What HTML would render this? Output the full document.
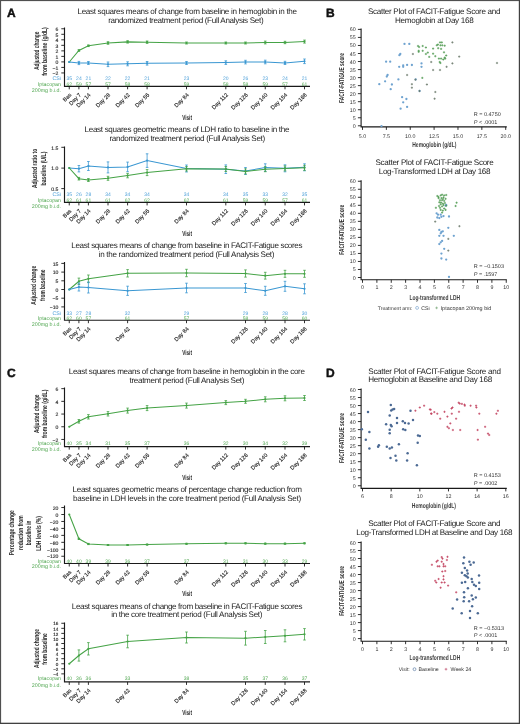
<!DOCTYPE html>
<html><head><meta charset="utf-8"><style>
html,body{margin:0;padding:0;background:#fff;}
body{width:520px;height:724px;overflow:hidden;position:relative;}
svg{will-change:transform;text-rendering:geometricPrecision;position:absolute;left:0;top:0;font-family:"Liberation Sans", sans-serif;}
</style></head><body>
<svg width="520" height="724" viewBox="0 0 520 724">
<text x="77.50" y="14.00" font-size="8.1" fill="#1e1e1e" textLength="219.50" lengthAdjust="spacing">Least squares means of change from baseline in hemoglobin in the</text>
<text x="108.20" y="22.80" font-size="8.1" fill="#1e1e1e" textLength="155.40" lengthAdjust="spacing">randomized treatment period (Full Analysis Set)</text>
<text transform="translate(38.86,69.85) rotate(-90)" x="0" y="0" font-size="7.2" font-weight="bold" fill="#262626" textLength="38.2" lengthAdjust="spacingAndGlyphs">Adjusted change</text>
<text transform="translate(47.36,75.70) rotate(-90)" x="0" y="0" font-size="7.2" font-weight="bold" fill="#262626" textLength="48.5" lengthAdjust="spacingAndGlyphs">from baseline (g/dL)</text>
<path d="M64.5,27.5 V86.3 H310" fill="none" stroke="#1a1a1a" stroke-width="1.15"/>
<line x1="61.3" y1="28.78" x2="64.5" y2="28.78" stroke="#1a1a1a" stroke-width="0.9"/>
<text x="58.40" y="30.98" font-size="5.1" text-anchor="end" fill="#222" stroke="#222" stroke-width="0.12">6</text>
<line x1="61.3" y1="34.30" x2="64.5" y2="34.30" stroke="#1a1a1a" stroke-width="0.9"/>
<text x="58.40" y="36.50" font-size="5.1" text-anchor="end" fill="#222" stroke="#222" stroke-width="0.12">5</text>
<line x1="61.3" y1="39.82" x2="64.5" y2="39.82" stroke="#1a1a1a" stroke-width="0.9"/>
<text x="58.40" y="42.02" font-size="5.1" text-anchor="end" fill="#222" stroke="#222" stroke-width="0.12">4</text>
<line x1="61.3" y1="45.34" x2="64.5" y2="45.34" stroke="#1a1a1a" stroke-width="0.9"/>
<text x="58.40" y="47.54" font-size="5.1" text-anchor="end" fill="#222" stroke="#222" stroke-width="0.12">3</text>
<line x1="61.3" y1="50.86" x2="64.5" y2="50.86" stroke="#1a1a1a" stroke-width="0.9"/>
<text x="58.40" y="53.06" font-size="5.1" text-anchor="end" fill="#222" stroke="#222" stroke-width="0.12">2</text>
<line x1="61.3" y1="56.38" x2="64.5" y2="56.38" stroke="#1a1a1a" stroke-width="0.9"/>
<text x="58.40" y="58.58" font-size="5.1" text-anchor="end" fill="#222" stroke="#222" stroke-width="0.12">1</text>
<line x1="61.3" y1="61.90" x2="64.5" y2="61.90" stroke="#1a1a1a" stroke-width="0.9"/>
<text x="58.40" y="64.10" font-size="5.1" text-anchor="end" fill="#222" stroke="#222" stroke-width="0.12">0</text>
<line x1="61.3" y1="67.42" x2="64.5" y2="67.42" stroke="#1a1a1a" stroke-width="0.9"/>
<text x="58.40" y="69.62" font-size="5.1" text-anchor="end" fill="#222" stroke="#222" stroke-width="0.12">&#8722;1</text>
<line x1="61.3" y1="72.94" x2="64.5" y2="72.94" stroke="#1a1a1a" stroke-width="0.9"/>
<text x="58.40" y="75.14" font-size="5.1" text-anchor="end" fill="#222" stroke="#222" stroke-width="0.12">&#8722;2</text>
<line x1="69.25" y1="86.3" x2="69.25" y2="89.3" stroke="#1a1a1a" stroke-width="0.9"/>
<text transform="translate(71.85,95.30) rotate(-45)" font-size="5.6" text-anchor="end" fill="#222" stroke="#222" stroke-width="0.12">Bas</text>
<line x1="78.9" y1="86.3" x2="78.9" y2="89.3" stroke="#1a1a1a" stroke-width="0.9"/>
<text transform="translate(81.50,95.30) rotate(-45)" font-size="5.6" text-anchor="end" fill="#222" stroke="#222" stroke-width="0.12">Day 7</text>
<line x1="88.4" y1="86.3" x2="88.4" y2="89.3" stroke="#1a1a1a" stroke-width="0.9"/>
<text transform="translate(91.00,95.30) rotate(-45)" font-size="5.6" text-anchor="end" fill="#222" stroke="#222" stroke-width="0.12">Day 14</text>
<line x1="108.0" y1="86.3" x2="108.0" y2="89.3" stroke="#1a1a1a" stroke-width="0.9"/>
<text transform="translate(110.60,95.30) rotate(-45)" font-size="5.6" text-anchor="end" fill="#222" stroke="#222" stroke-width="0.12">Day 28</text>
<line x1="127.6" y1="86.3" x2="127.6" y2="89.3" stroke="#1a1a1a" stroke-width="0.9"/>
<text transform="translate(130.20,95.30) rotate(-45)" font-size="5.6" text-anchor="end" fill="#222" stroke="#222" stroke-width="0.12">Day 42</text>
<line x1="147.1" y1="86.3" x2="147.1" y2="89.3" stroke="#1a1a1a" stroke-width="0.9"/>
<text transform="translate(149.70,95.30) rotate(-45)" font-size="5.6" text-anchor="end" fill="#222" stroke="#222" stroke-width="0.12">Day 56</text>
<line x1="186.5" y1="86.3" x2="186.5" y2="89.3" stroke="#1a1a1a" stroke-width="0.9"/>
<text transform="translate(189.10,95.30) rotate(-45)" font-size="5.6" text-anchor="end" fill="#222" stroke="#222" stroke-width="0.12">Day 84</text>
<line x1="225.8" y1="86.3" x2="225.8" y2="89.3" stroke="#1a1a1a" stroke-width="0.9"/>
<text transform="translate(228.40,95.30) rotate(-45)" font-size="5.6" text-anchor="end" fill="#222" stroke="#222" stroke-width="0.12">Day 112</text>
<line x1="245.5" y1="86.3" x2="245.5" y2="89.3" stroke="#1a1a1a" stroke-width="0.9"/>
<text transform="translate(248.10,95.30) rotate(-45)" font-size="5.6" text-anchor="end" fill="#222" stroke="#222" stroke-width="0.12">Day 126</text>
<line x1="265.25" y1="86.3" x2="265.25" y2="89.3" stroke="#1a1a1a" stroke-width="0.9"/>
<text transform="translate(267.85,95.30) rotate(-45)" font-size="5.6" text-anchor="end" fill="#222" stroke="#222" stroke-width="0.12">Day 140</text>
<line x1="285.0" y1="86.3" x2="285.0" y2="89.3" stroke="#1a1a1a" stroke-width="0.9"/>
<text transform="translate(287.60,95.30) rotate(-45)" font-size="5.6" text-anchor="end" fill="#222" stroke="#222" stroke-width="0.12">Day 154</text>
<line x1="304.5" y1="86.3" x2="304.5" y2="89.3" stroke="#1a1a1a" stroke-width="0.9"/>
<text transform="translate(307.10,95.30) rotate(-45)" font-size="5.6" text-anchor="end" fill="#222" stroke="#222" stroke-width="0.12">Day 168</text>
<text x="182.25" y="119.91" font-size="7.2" font-weight="bold" fill="#262626" textLength="9.7" lengthAdjust="spacingAndGlyphs">Visit</text>
<text x="61.00" y="80.30" font-size="5.3" text-anchor="end" fill="#4a9ed8" >CSi</text>
<text x="69.25" y="80.30" font-size="5.0" text-anchor="middle" fill="#4a9ed8" >35</text>
<text x="78.90" y="80.30" font-size="5.0" text-anchor="middle" fill="#4a9ed8" >24</text>
<text x="88.40" y="80.30" font-size="5.0" text-anchor="middle" fill="#4a9ed8" >21</text>
<text x="108.00" y="80.30" font-size="5.0" text-anchor="middle" fill="#4a9ed8" >22</text>
<text x="127.60" y="80.30" font-size="5.0" text-anchor="middle" fill="#4a9ed8" >22</text>
<text x="147.10" y="80.30" font-size="5.0" text-anchor="middle" fill="#4a9ed8" >21</text>
<text x="186.50" y="80.30" font-size="5.0" text-anchor="middle" fill="#4a9ed8" >23</text>
<text x="225.80" y="80.30" font-size="5.0" text-anchor="middle" fill="#4a9ed8" >20</text>
<text x="245.50" y="80.30" font-size="5.0" text-anchor="middle" fill="#4a9ed8" >26</text>
<text x="265.25" y="80.30" font-size="5.0" text-anchor="middle" fill="#4a9ed8" >23</text>
<text x="285.00" y="80.30" font-size="5.0" text-anchor="middle" fill="#4a9ed8" >24</text>
<text x="304.50" y="80.30" font-size="5.0" text-anchor="middle" fill="#4a9ed8" >21</text>
<text x="61.00" y="86.20" font-size="5.3" text-anchor="end" fill="#52a752" >Iptacopan</text>
<text x="61.00" y="92.30" font-size="5.3" text-anchor="end" fill="#52a752" >200mg b.i.d.</text>
<text x="69.25" y="86.20" font-size="5.0" text-anchor="middle" fill="#52a752" >62</text>
<text x="78.90" y="86.20" font-size="5.0" text-anchor="middle" fill="#52a752" >59</text>
<text x="88.40" y="86.20" font-size="5.0" text-anchor="middle" fill="#52a752" >57</text>
<text x="108.00" y="86.20" font-size="5.0" text-anchor="middle" fill="#52a752" >57</text>
<text x="127.60" y="86.20" font-size="5.0" text-anchor="middle" fill="#52a752" >58</text>
<text x="147.10" y="86.20" font-size="5.0" text-anchor="middle" fill="#52a752" >58</text>
<text x="186.50" y="86.20" font-size="5.0" text-anchor="middle" fill="#52a752" >59</text>
<text x="225.80" y="86.20" font-size="5.0" text-anchor="middle" fill="#52a752" >58</text>
<text x="245.50" y="86.20" font-size="5.0" text-anchor="middle" fill="#52a752" >58</text>
<text x="265.25" y="86.20" font-size="5.0" text-anchor="middle" fill="#52a752" >59</text>
<text x="285.00" y="86.20" font-size="5.0" text-anchor="middle" fill="#52a752" >57</text>
<text x="304.50" y="86.20" font-size="5.0" text-anchor="middle" fill="#52a752" >61</text>
<path d="M69.25,62.00 L78.90,50.50 L88.40,45.75 L108.00,43.00 L127.60,41.90 L147.10,42.20 L186.50,43.00 L225.80,43.00 L245.50,43.00 L265.25,42.50 L285.00,42.50 L304.50,41.60" fill="none" stroke="#45a346" stroke-width="1.05"/>
<circle cx="69.25" cy="62.00" r="1.1" fill="#45a346"/>
<path d="M77.60,49.70 H80.20 M78.90,49.70 V51.30 M77.60,51.30 H80.20" stroke="#45a346" stroke-width="0.8" fill="none"/>
<circle cx="78.90" cy="50.50" r="1.1" fill="#45a346"/>
<path d="M87.10,44.95 H89.70 M88.40,44.95 V46.55 M87.10,46.55 H89.70" stroke="#45a346" stroke-width="0.8" fill="none"/>
<circle cx="88.40" cy="45.75" r="1.1" fill="#45a346"/>
<path d="M106.70,41.70 H109.30 M108.00,41.70 V44.30 M106.70,44.30 H109.30" stroke="#45a346" stroke-width="0.8" fill="none"/>
<circle cx="108.00" cy="43.00" r="1.1" fill="#45a346"/>
<path d="M126.30,40.70 H128.90 M127.60,40.70 V43.10 M126.30,43.10 H128.90" stroke="#45a346" stroke-width="0.8" fill="none"/>
<circle cx="127.60" cy="41.90" r="1.1" fill="#45a346"/>
<path d="M145.80,41.00 H148.40 M147.10,41.00 V43.40 M145.80,43.40 H148.40" stroke="#45a346" stroke-width="0.8" fill="none"/>
<circle cx="147.10" cy="42.20" r="1.1" fill="#45a346"/>
<path d="M185.20,42.00 H187.80 M186.50,42.00 V44.00 M185.20,44.00 H187.80" stroke="#45a346" stroke-width="0.8" fill="none"/>
<circle cx="186.50" cy="43.00" r="1.1" fill="#45a346"/>
<path d="M224.50,42.00 H227.10 M225.80,42.00 V44.00 M224.50,44.00 H227.10" stroke="#45a346" stroke-width="0.8" fill="none"/>
<circle cx="225.80" cy="43.00" r="1.1" fill="#45a346"/>
<path d="M244.20,42.00 H246.80 M245.50,42.00 V44.00 M244.20,44.00 H246.80" stroke="#45a346" stroke-width="0.8" fill="none"/>
<circle cx="245.50" cy="43.00" r="1.1" fill="#45a346"/>
<path d="M263.95,41.10 H266.55 M265.25,41.10 V43.90 M263.95,43.90 H266.55" stroke="#45a346" stroke-width="0.8" fill="none"/>
<circle cx="265.25" cy="42.50" r="1.1" fill="#45a346"/>
<path d="M283.70,41.30 H286.30 M285.00,41.30 V43.70 M283.70,43.70 H286.30" stroke="#45a346" stroke-width="0.8" fill="none"/>
<circle cx="285.00" cy="42.50" r="1.1" fill="#45a346"/>
<path d="M303.20,40.10 H305.80 M304.50,40.10 V43.10 M303.20,43.10 H305.80" stroke="#45a346" stroke-width="0.8" fill="none"/>
<circle cx="304.50" cy="41.60" r="1.1" fill="#45a346"/>
<path d="M69.25,62.00 L78.90,63.00 L88.40,63.00 L108.00,64.30 L127.60,63.80 L147.10,63.30 L186.50,63.00 L225.80,62.60 L245.50,62.10 L265.25,62.00 L285.00,62.90 L304.50,61.30" fill="none" stroke="#3a97d2" stroke-width="1.05"/>
<circle cx="69.25" cy="62.00" r="1.1" fill="#3a97d2"/>
<path d="M77.60,61.40 H80.20 M78.90,61.40 V64.60 M77.60,64.60 H80.20" stroke="#3a97d2" stroke-width="0.8" fill="none"/>
<circle cx="78.90" cy="63.00" r="1.1" fill="#3a97d2"/>
<path d="M87.10,61.50 H89.70 M88.40,61.50 V64.50 M87.10,64.50 H89.70" stroke="#3a97d2" stroke-width="0.8" fill="none"/>
<circle cx="88.40" cy="63.00" r="1.1" fill="#3a97d2"/>
<path d="M106.70,62.00 H109.30 M108.00,62.00 V66.60 M106.70,66.60 H109.30" stroke="#3a97d2" stroke-width="0.8" fill="none"/>
<circle cx="108.00" cy="64.30" r="1.1" fill="#3a97d2"/>
<path d="M126.30,61.80 H128.90 M127.60,61.80 V65.80 M126.30,65.80 H128.90" stroke="#3a97d2" stroke-width="0.8" fill="none"/>
<circle cx="127.60" cy="63.80" r="1.1" fill="#3a97d2"/>
<path d="M145.80,61.50 H148.40 M147.10,61.50 V65.10 M145.80,65.10 H148.40" stroke="#3a97d2" stroke-width="0.8" fill="none"/>
<circle cx="147.10" cy="63.30" r="1.1" fill="#3a97d2"/>
<path d="M185.20,61.50 H187.80 M186.50,61.50 V64.50 M185.20,64.50 H187.80" stroke="#3a97d2" stroke-width="0.8" fill="none"/>
<circle cx="186.50" cy="63.00" r="1.1" fill="#3a97d2"/>
<path d="M224.50,60.80 H227.10 M225.80,60.80 V64.40 M224.50,64.40 H227.10" stroke="#3a97d2" stroke-width="0.8" fill="none"/>
<circle cx="225.80" cy="62.60" r="1.1" fill="#3a97d2"/>
<path d="M244.20,60.30 H246.80 M245.50,60.30 V63.90 M244.20,63.90 H246.80" stroke="#3a97d2" stroke-width="0.8" fill="none"/>
<circle cx="245.50" cy="62.10" r="1.1" fill="#3a97d2"/>
<path d="M263.95,60.20 H266.55 M265.25,60.20 V63.80 M263.95,63.80 H266.55" stroke="#3a97d2" stroke-width="0.8" fill="none"/>
<circle cx="265.25" cy="62.00" r="1.1" fill="#3a97d2"/>
<path d="M283.70,61.30 H286.30 M285.00,61.30 V64.50 M283.70,64.50 H286.30" stroke="#3a97d2" stroke-width="0.8" fill="none"/>
<circle cx="285.00" cy="62.90" r="1.1" fill="#3a97d2"/>
<path d="M303.20,59.00 H305.80 M304.50,59.00 V63.60 M303.20,63.60 H305.80" stroke="#3a97d2" stroke-width="0.8" fill="none"/>
<circle cx="304.50" cy="61.30" r="1.1" fill="#3a97d2"/>
<text x="84.50" y="131.70" font-size="8.1" fill="#1e1e1e" textLength="205.00" lengthAdjust="spacing">Least squares geometric means of LDH ratio to baseline in the</text>
<text x="109.40" y="140.70" font-size="8.1" fill="#1e1e1e" textLength="155.80" lengthAdjust="spacing">randomized treatment period (Full Analysis Set)</text>
<text transform="translate(37.16,188.10) rotate(-90)" x="0" y="0" font-size="7.2" font-weight="bold" fill="#262626" textLength="39.4" lengthAdjust="spacingAndGlyphs">Adjusted ratio to</text>
<text transform="translate(46.26,185.40) rotate(-90)" x="0" y="0" font-size="7.2" font-weight="bold" fill="#262626" textLength="33.8" lengthAdjust="spacingAndGlyphs">baseline (U/L)</text>
<path d="M64.5,146.5 V202.4 H310" fill="none" stroke="#1a1a1a" stroke-width="1.15"/>
<line x1="61.3" y1="147.30" x2="64.5" y2="147.30" stroke="#1a1a1a" stroke-width="0.9"/>
<text x="58.40" y="149.50" font-size="5.1" text-anchor="end" fill="#222" stroke="#222" stroke-width="0.12">1.5</text>
<line x1="61.3" y1="168.10" x2="64.5" y2="168.10" stroke="#1a1a1a" stroke-width="0.9"/>
<text x="58.40" y="170.30" font-size="5.1" text-anchor="end" fill="#222" stroke="#222" stroke-width="0.12">1.0</text>
<line x1="61.3" y1="188.60" x2="64.5" y2="188.60" stroke="#1a1a1a" stroke-width="0.9"/>
<text x="58.40" y="190.80" font-size="5.1" text-anchor="end" fill="#222" stroke="#222" stroke-width="0.12">0.5</text>
<line x1="69.25" y1="202.4" x2="69.25" y2="205.4" stroke="#1a1a1a" stroke-width="0.9"/>
<text transform="translate(71.85,211.40) rotate(-45)" font-size="5.6" text-anchor="end" fill="#222" stroke="#222" stroke-width="0.12">Bas</text>
<line x1="78.9" y1="202.4" x2="78.9" y2="205.4" stroke="#1a1a1a" stroke-width="0.9"/>
<text transform="translate(81.50,211.40) rotate(-45)" font-size="5.6" text-anchor="end" fill="#222" stroke="#222" stroke-width="0.12">Day 7</text>
<line x1="88.4" y1="202.4" x2="88.4" y2="205.4" stroke="#1a1a1a" stroke-width="0.9"/>
<text transform="translate(91.00,211.40) rotate(-45)" font-size="5.6" text-anchor="end" fill="#222" stroke="#222" stroke-width="0.12">Day 14</text>
<line x1="108.0" y1="202.4" x2="108.0" y2="205.4" stroke="#1a1a1a" stroke-width="0.9"/>
<text transform="translate(110.60,211.40) rotate(-45)" font-size="5.6" text-anchor="end" fill="#222" stroke="#222" stroke-width="0.12">Day 28</text>
<line x1="127.6" y1="202.4" x2="127.6" y2="205.4" stroke="#1a1a1a" stroke-width="0.9"/>
<text transform="translate(130.20,211.40) rotate(-45)" font-size="5.6" text-anchor="end" fill="#222" stroke="#222" stroke-width="0.12">Day 42</text>
<line x1="147.1" y1="202.4" x2="147.1" y2="205.4" stroke="#1a1a1a" stroke-width="0.9"/>
<text transform="translate(149.70,211.40) rotate(-45)" font-size="5.6" text-anchor="end" fill="#222" stroke="#222" stroke-width="0.12">Day 56</text>
<line x1="186.5" y1="202.4" x2="186.5" y2="205.4" stroke="#1a1a1a" stroke-width="0.9"/>
<text transform="translate(189.10,211.40) rotate(-45)" font-size="5.6" text-anchor="end" fill="#222" stroke="#222" stroke-width="0.12">Day 84</text>
<line x1="225.8" y1="202.4" x2="225.8" y2="205.4" stroke="#1a1a1a" stroke-width="0.9"/>
<text transform="translate(228.40,211.40) rotate(-45)" font-size="5.6" text-anchor="end" fill="#222" stroke="#222" stroke-width="0.12">Day 112</text>
<line x1="245.5" y1="202.4" x2="245.5" y2="205.4" stroke="#1a1a1a" stroke-width="0.9"/>
<text transform="translate(248.10,211.40) rotate(-45)" font-size="5.6" text-anchor="end" fill="#222" stroke="#222" stroke-width="0.12">Day 126</text>
<line x1="265.25" y1="202.4" x2="265.25" y2="205.4" stroke="#1a1a1a" stroke-width="0.9"/>
<text transform="translate(267.85,211.40) rotate(-45)" font-size="5.6" text-anchor="end" fill="#222" stroke="#222" stroke-width="0.12">Day 140</text>
<line x1="285.0" y1="202.4" x2="285.0" y2="205.4" stroke="#1a1a1a" stroke-width="0.9"/>
<text transform="translate(287.60,211.40) rotate(-45)" font-size="5.6" text-anchor="end" fill="#222" stroke="#222" stroke-width="0.12">Day 154</text>
<line x1="304.5" y1="202.4" x2="304.5" y2="205.4" stroke="#1a1a1a" stroke-width="0.9"/>
<text transform="translate(307.10,211.40) rotate(-45)" font-size="5.6" text-anchor="end" fill="#222" stroke="#222" stroke-width="0.12">Day 168</text>
<text x="182.25" y="235.56" font-size="7.2" font-weight="bold" fill="#262626" textLength="9.7" lengthAdjust="spacingAndGlyphs">Visit</text>
<text x="61.00" y="196.30" font-size="5.3" text-anchor="end" fill="#4a9ed8" >CSi</text>
<text x="69.25" y="196.30" font-size="5.0" text-anchor="middle" fill="#4a9ed8" >35</text>
<text x="78.90" y="196.30" font-size="5.0" text-anchor="middle" fill="#4a9ed8" >26</text>
<text x="88.40" y="196.30" font-size="5.0" text-anchor="middle" fill="#4a9ed8" >28</text>
<text x="108.00" y="196.30" font-size="5.0" text-anchor="middle" fill="#4a9ed8" >34</text>
<text x="127.60" y="196.30" font-size="5.0" text-anchor="middle" fill="#4a9ed8" >34</text>
<text x="147.10" y="196.30" font-size="5.0" text-anchor="middle" fill="#4a9ed8" >34</text>
<text x="186.50" y="196.30" font-size="5.0" text-anchor="middle" fill="#4a9ed8" >34</text>
<text x="225.80" y="196.30" font-size="5.0" text-anchor="middle" fill="#4a9ed8" >34</text>
<text x="245.50" y="196.30" font-size="5.0" text-anchor="middle" fill="#4a9ed8" >35</text>
<text x="265.25" y="196.30" font-size="5.0" text-anchor="middle" fill="#4a9ed8" >33</text>
<text x="285.00" y="196.30" font-size="5.0" text-anchor="middle" fill="#4a9ed8" >32</text>
<text x="304.50" y="196.30" font-size="5.0" text-anchor="middle" fill="#4a9ed8" >35</text>
<text x="61.00" y="201.70" font-size="5.3" text-anchor="end" fill="#52a752" >Iptacopan</text>
<text x="61.00" y="208.00" font-size="5.3" text-anchor="end" fill="#52a752" >200mg b.i.d.</text>
<text x="69.25" y="201.70" font-size="5.0" text-anchor="middle" fill="#52a752" >62</text>
<text x="78.90" y="201.70" font-size="5.0" text-anchor="middle" fill="#52a752" >61</text>
<text x="88.40" y="201.70" font-size="5.0" text-anchor="middle" fill="#52a752" >61</text>
<text x="108.00" y="201.70" font-size="5.0" text-anchor="middle" fill="#52a752" >61</text>
<text x="127.60" y="201.70" font-size="5.0" text-anchor="middle" fill="#52a752" >62</text>
<text x="147.10" y="201.70" font-size="5.0" text-anchor="middle" fill="#52a752" >62</text>
<text x="186.50" y="201.70" font-size="5.0" text-anchor="middle" fill="#52a752" >62</text>
<text x="225.80" y="201.70" font-size="5.0" text-anchor="middle" fill="#52a752" >61</text>
<text x="245.50" y="201.70" font-size="5.0" text-anchor="middle" fill="#52a752" >59</text>
<text x="265.25" y="201.70" font-size="5.0" text-anchor="middle" fill="#52a752" >59</text>
<text x="285.00" y="201.70" font-size="5.0" text-anchor="middle" fill="#52a752" >57</text>
<text x="304.50" y="201.70" font-size="5.0" text-anchor="middle" fill="#52a752" >61</text>
<path d="M69.25,168.00 L78.90,168.70 L88.40,166.00 L108.00,167.40 L127.60,166.90 L147.10,160.60 L186.50,168.50 L225.80,169.20 L245.50,171.00 L265.25,167.60 L285.00,168.30 L304.50,167.30" fill="none" stroke="#3a97d2" stroke-width="1.05"/>
<circle cx="69.25" cy="168.00" r="1.1" fill="#3a97d2"/>
<path d="M77.60,165.50 H80.20 M78.90,165.50 V171.90 M77.60,171.90 H80.20" stroke="#3a97d2" stroke-width="0.8" fill="none"/>
<circle cx="78.90" cy="168.70" r="1.1" fill="#3a97d2"/>
<path d="M87.10,161.50 H89.70 M88.40,161.50 V170.50 M87.10,170.50 H89.70" stroke="#3a97d2" stroke-width="0.8" fill="none"/>
<circle cx="88.40" cy="166.00" r="1.1" fill="#3a97d2"/>
<path d="M106.70,161.90 H109.30 M108.00,161.90 V172.90 M106.70,172.90 H109.30" stroke="#3a97d2" stroke-width="0.8" fill="none"/>
<circle cx="108.00" cy="167.40" r="1.1" fill="#3a97d2"/>
<path d="M126.30,162.10 H128.90 M127.60,162.10 V171.70 M126.30,171.70 H128.90" stroke="#3a97d2" stroke-width="0.8" fill="none"/>
<circle cx="127.60" cy="166.90" r="1.1" fill="#3a97d2"/>
<path d="M145.80,153.80 H148.40 M147.10,153.80 V167.40 M145.80,167.40 H148.40" stroke="#3a97d2" stroke-width="0.8" fill="none"/>
<circle cx="147.10" cy="160.60" r="1.1" fill="#3a97d2"/>
<path d="M185.20,165.00 H187.80 M186.50,165.00 V172.00 M185.20,172.00 H187.80" stroke="#3a97d2" stroke-width="0.8" fill="none"/>
<circle cx="186.50" cy="168.50" r="1.1" fill="#3a97d2"/>
<path d="M224.50,164.90 H227.10 M225.80,164.90 V173.50 M224.50,173.50 H227.10" stroke="#3a97d2" stroke-width="0.8" fill="none"/>
<circle cx="225.80" cy="169.20" r="1.1" fill="#3a97d2"/>
<path d="M244.20,167.50 H246.80 M245.50,167.50 V174.50 M244.20,174.50 H246.80" stroke="#3a97d2" stroke-width="0.8" fill="none"/>
<circle cx="245.50" cy="171.00" r="1.1" fill="#3a97d2"/>
<path d="M263.95,163.80 H266.55 M265.25,163.80 V171.40 M263.95,171.40 H266.55" stroke="#3a97d2" stroke-width="0.8" fill="none"/>
<circle cx="265.25" cy="167.60" r="1.1" fill="#3a97d2"/>
<path d="M283.70,164.80 H286.30 M285.00,164.80 V171.80 M283.70,171.80 H286.30" stroke="#3a97d2" stroke-width="0.8" fill="none"/>
<circle cx="285.00" cy="168.30" r="1.1" fill="#3a97d2"/>
<path d="M303.20,163.80 H305.80 M304.50,163.80 V170.80 M303.20,170.80 H305.80" stroke="#3a97d2" stroke-width="0.8" fill="none"/>
<circle cx="304.50" cy="167.30" r="1.1" fill="#3a97d2"/>
<path d="M69.25,168.00 L78.90,178.70 L88.40,180.00 L108.00,178.30 L127.60,175.60 L147.10,172.60 L186.50,168.80 L225.80,169.00 L245.50,171.40 L265.25,169.20 L285.00,168.40 L304.50,167.80" fill="none" stroke="#45a346" stroke-width="1.05"/>
<circle cx="69.25" cy="168.00" r="1.1" fill="#45a346"/>
<path d="M77.60,177.40 H80.20 M78.90,177.40 V180.00 M77.60,180.00 H80.20" stroke="#45a346" stroke-width="0.8" fill="none"/>
<circle cx="78.90" cy="178.70" r="1.1" fill="#45a346"/>
<path d="M87.10,178.50 H89.70 M88.40,178.50 V181.50 M87.10,181.50 H89.70" stroke="#45a346" stroke-width="0.8" fill="none"/>
<circle cx="88.40" cy="180.00" r="1.1" fill="#45a346"/>
<path d="M106.70,176.30 H109.30 M108.00,176.30 V180.30 M106.70,180.30 H109.30" stroke="#45a346" stroke-width="0.8" fill="none"/>
<circle cx="108.00" cy="178.30" r="1.1" fill="#45a346"/>
<path d="M126.30,173.40 H128.90 M127.60,173.40 V177.80 M126.30,177.80 H128.90" stroke="#45a346" stroke-width="0.8" fill="none"/>
<circle cx="127.60" cy="175.60" r="1.1" fill="#45a346"/>
<path d="M145.80,169.60 H148.40 M147.10,169.60 V175.60 M145.80,175.60 H148.40" stroke="#45a346" stroke-width="0.8" fill="none"/>
<circle cx="147.10" cy="172.60" r="1.1" fill="#45a346"/>
<path d="M185.20,166.60 H187.80 M186.50,166.60 V171.00 M185.20,171.00 H187.80" stroke="#45a346" stroke-width="0.8" fill="none"/>
<circle cx="186.50" cy="168.80" r="1.1" fill="#45a346"/>
<path d="M224.50,166.50 H227.10 M225.80,166.50 V171.50 M224.50,171.50 H227.10" stroke="#45a346" stroke-width="0.8" fill="none"/>
<circle cx="225.80" cy="169.00" r="1.1" fill="#45a346"/>
<path d="M244.20,168.90 H246.80 M245.50,168.90 V173.90 M244.20,173.90 H246.80" stroke="#45a346" stroke-width="0.8" fill="none"/>
<circle cx="245.50" cy="171.40" r="1.1" fill="#45a346"/>
<path d="M263.95,166.70 H266.55 M265.25,166.70 V171.70 M263.95,171.70 H266.55" stroke="#45a346" stroke-width="0.8" fill="none"/>
<circle cx="265.25" cy="169.20" r="1.1" fill="#45a346"/>
<path d="M283.70,165.90 H286.30 M285.00,165.90 V170.90 M283.70,170.90 H286.30" stroke="#45a346" stroke-width="0.8" fill="none"/>
<circle cx="285.00" cy="168.40" r="1.1" fill="#45a346"/>
<path d="M303.20,165.30 H305.80 M304.50,165.30 V170.30 M303.20,170.30 H305.80" stroke="#45a346" stroke-width="0.8" fill="none"/>
<circle cx="304.50" cy="167.80" r="1.1" fill="#45a346"/>
<text x="71.25" y="247.90" font-size="8.1" fill="#1e1e1e" textLength="231.25" lengthAdjust="spacing">Least squares means of change from baseline in FACIT-Fatigue scores</text>
<text x="98.75" y="257.10" font-size="8.1" fill="#1e1e1e" textLength="175.75" lengthAdjust="spacing">in the randomized treatment period (Full Analysis Set)</text>
<text transform="translate(35.96,304.80) rotate(-90)" x="0" y="0" font-size="7.2" font-weight="bold" fill="#262626" textLength="39.0" lengthAdjust="spacingAndGlyphs">Adjusted change</text>
<text transform="translate(44.56,301.00) rotate(-90)" x="0" y="0" font-size="7.2" font-weight="bold" fill="#262626" textLength="31.5" lengthAdjust="spacingAndGlyphs">from baseline</text>
<path d="M64.5,262.0 V320.2 H310" fill="none" stroke="#1a1a1a" stroke-width="1.15"/>
<line x1="61.3" y1="263.40" x2="64.5" y2="263.40" stroke="#1a1a1a" stroke-width="0.9"/>
<text x="58.40" y="265.60" font-size="5.1" text-anchor="end" fill="#222" stroke="#222" stroke-width="0.12">15</text>
<line x1="61.3" y1="272.10" x2="64.5" y2="272.10" stroke="#1a1a1a" stroke-width="0.9"/>
<text x="58.40" y="274.30" font-size="5.1" text-anchor="end" fill="#222" stroke="#222" stroke-width="0.12">10</text>
<line x1="61.3" y1="280.80" x2="64.5" y2="280.80" stroke="#1a1a1a" stroke-width="0.9"/>
<text x="58.40" y="283.00" font-size="5.1" text-anchor="end" fill="#222" stroke="#222" stroke-width="0.12">5</text>
<line x1="61.3" y1="289.50" x2="64.5" y2="289.50" stroke="#1a1a1a" stroke-width="0.9"/>
<text x="58.40" y="291.70" font-size="5.1" text-anchor="end" fill="#222" stroke="#222" stroke-width="0.12">0</text>
<line x1="61.3" y1="298.20" x2="64.5" y2="298.20" stroke="#1a1a1a" stroke-width="0.9"/>
<text x="58.40" y="300.40" font-size="5.1" text-anchor="end" fill="#222" stroke="#222" stroke-width="0.12">&#8722;5</text>
<line x1="61.3" y1="306.90" x2="64.5" y2="306.90" stroke="#1a1a1a" stroke-width="0.9"/>
<text x="58.40" y="309.10" font-size="5.1" text-anchor="end" fill="#222" stroke="#222" stroke-width="0.12">&#8722;10</text>
<line x1="69.25" y1="320.2" x2="69.25" y2="323.2" stroke="#1a1a1a" stroke-width="0.9"/>
<text transform="translate(71.85,329.20) rotate(-45)" font-size="5.6" text-anchor="end" fill="#222" stroke="#222" stroke-width="0.12">Bas</text>
<line x1="78.9" y1="320.2" x2="78.9" y2="323.2" stroke="#1a1a1a" stroke-width="0.9"/>
<text transform="translate(81.50,329.20) rotate(-45)" font-size="5.6" text-anchor="end" fill="#222" stroke="#222" stroke-width="0.12">Day 7</text>
<line x1="88.4" y1="320.2" x2="88.4" y2="323.2" stroke="#1a1a1a" stroke-width="0.9"/>
<text transform="translate(91.00,329.20) rotate(-45)" font-size="5.6" text-anchor="end" fill="#222" stroke="#222" stroke-width="0.12">Day 14</text>
<line x1="127.6" y1="320.2" x2="127.6" y2="323.2" stroke="#1a1a1a" stroke-width="0.9"/>
<text transform="translate(130.20,329.20) rotate(-45)" font-size="5.6" text-anchor="end" fill="#222" stroke="#222" stroke-width="0.12">Day 42</text>
<line x1="186.5" y1="320.2" x2="186.5" y2="323.2" stroke="#1a1a1a" stroke-width="0.9"/>
<text transform="translate(189.10,329.20) rotate(-45)" font-size="5.6" text-anchor="end" fill="#222" stroke="#222" stroke-width="0.12">Day 84</text>
<line x1="245.5" y1="320.2" x2="245.5" y2="323.2" stroke="#1a1a1a" stroke-width="0.9"/>
<text transform="translate(248.10,329.20) rotate(-45)" font-size="5.6" text-anchor="end" fill="#222" stroke="#222" stroke-width="0.12">Day 126</text>
<line x1="265.25" y1="320.2" x2="265.25" y2="323.2" stroke="#1a1a1a" stroke-width="0.9"/>
<text transform="translate(267.85,329.20) rotate(-45)" font-size="5.6" text-anchor="end" fill="#222" stroke="#222" stroke-width="0.12">Day 140</text>
<line x1="285.0" y1="320.2" x2="285.0" y2="323.2" stroke="#1a1a1a" stroke-width="0.9"/>
<text transform="translate(287.60,329.20) rotate(-45)" font-size="5.6" text-anchor="end" fill="#222" stroke="#222" stroke-width="0.12">Day 154</text>
<line x1="304.5" y1="320.2" x2="304.5" y2="323.2" stroke="#1a1a1a" stroke-width="0.9"/>
<text transform="translate(307.10,329.20) rotate(-45)" font-size="5.6" text-anchor="end" fill="#222" stroke="#222" stroke-width="0.12">Day 168</text>
<text x="182.25" y="355.41" font-size="7.2" font-weight="bold" fill="#262626" textLength="9.7" lengthAdjust="spacingAndGlyphs">Visit</text>
<text x="61.00" y="314.70" font-size="5.3" text-anchor="end" fill="#4a9ed8" >CSi</text>
<text x="69.25" y="314.70" font-size="5.0" text-anchor="middle" fill="#4a9ed8" >33</text>
<text x="78.90" y="314.70" font-size="5.0" text-anchor="middle" fill="#4a9ed8" >27</text>
<text x="88.40" y="314.70" font-size="5.0" text-anchor="middle" fill="#4a9ed8" >28</text>
<text x="127.60" y="314.70" font-size="5.0" text-anchor="middle" fill="#4a9ed8" >32</text>
<text x="186.50" y="314.70" font-size="5.0" text-anchor="middle" fill="#4a9ed8" >29</text>
<text x="245.50" y="314.70" font-size="5.0" text-anchor="middle" fill="#4a9ed8" >29</text>
<text x="265.25" y="314.70" font-size="5.0" text-anchor="middle" fill="#4a9ed8" >28</text>
<text x="285.00" y="314.70" font-size="5.0" text-anchor="middle" fill="#4a9ed8" >28</text>
<text x="304.50" y="314.70" font-size="5.0" text-anchor="middle" fill="#4a9ed8" >30</text>
<text x="61.00" y="319.70" font-size="5.3" text-anchor="end" fill="#52a752" >Iptacopan</text>
<text x="61.00" y="325.80" font-size="5.3" text-anchor="end" fill="#52a752" >200mg b.i.d.</text>
<text x="69.25" y="319.70" font-size="5.0" text-anchor="middle" fill="#52a752" >62</text>
<text x="78.90" y="319.70" font-size="5.0" text-anchor="middle" fill="#52a752" >60</text>
<text x="88.40" y="319.70" font-size="5.0" text-anchor="middle" fill="#52a752" >57</text>
<text x="127.60" y="319.70" font-size="5.0" text-anchor="middle" fill="#52a752" >61</text>
<text x="186.50" y="319.70" font-size="5.0" text-anchor="middle" fill="#52a752" >57</text>
<text x="245.50" y="319.70" font-size="5.0" text-anchor="middle" fill="#52a752" >58</text>
<text x="265.25" y="319.70" font-size="5.0" text-anchor="middle" fill="#52a752" >59</text>
<text x="285.00" y="319.70" font-size="5.0" text-anchor="middle" fill="#52a752" >58</text>
<text x="304.50" y="319.70" font-size="5.0" text-anchor="middle" fill="#52a752" >60</text>
<path d="M69.25,289.50 L78.90,281.30 L88.40,278.80 L127.60,273.30 L186.50,273.00 L245.50,273.50 L265.25,275.70 L285.00,273.80 L304.50,273.80" fill="none" stroke="#45a346" stroke-width="1.05"/>
<circle cx="69.25" cy="289.50" r="1.1" fill="#45a346"/>
<path d="M77.60,278.10 H80.20 M78.90,278.10 V284.50 M77.60,284.50 H80.20" stroke="#45a346" stroke-width="0.8" fill="none"/>
<circle cx="78.90" cy="281.30" r="1.1" fill="#45a346"/>
<path d="M87.10,275.00 H89.70 M88.40,275.00 V282.60 M87.10,282.60 H89.70" stroke="#45a346" stroke-width="0.8" fill="none"/>
<circle cx="88.40" cy="278.80" r="1.1" fill="#45a346"/>
<path d="M126.30,269.60 H128.90 M127.60,269.60 V277.00 M126.30,277.00 H128.90" stroke="#45a346" stroke-width="0.8" fill="none"/>
<circle cx="127.60" cy="273.30" r="1.1" fill="#45a346"/>
<path d="M185.20,269.30 H187.80 M186.50,269.30 V276.70 M185.20,276.70 H187.80" stroke="#45a346" stroke-width="0.8" fill="none"/>
<circle cx="186.50" cy="273.00" r="1.1" fill="#45a346"/>
<path d="M244.20,269.90 H246.80 M245.50,269.90 V277.10 M244.20,277.10 H246.80" stroke="#45a346" stroke-width="0.8" fill="none"/>
<circle cx="245.50" cy="273.50" r="1.1" fill="#45a346"/>
<path d="M263.95,272.30 H266.55 M265.25,272.30 V279.10 M263.95,279.10 H266.55" stroke="#45a346" stroke-width="0.8" fill="none"/>
<circle cx="265.25" cy="275.70" r="1.1" fill="#45a346"/>
<path d="M283.70,270.30 H286.30 M285.00,270.30 V277.30 M283.70,277.30 H286.30" stroke="#45a346" stroke-width="0.8" fill="none"/>
<circle cx="285.00" cy="273.80" r="1.1" fill="#45a346"/>
<path d="M303.20,270.30 H305.80 M304.50,270.30 V277.30 M303.20,277.30 H305.80" stroke="#45a346" stroke-width="0.8" fill="none"/>
<circle cx="304.50" cy="273.80" r="1.1" fill="#45a346"/>
<path d="M69.25,289.50 L78.90,287.00 L88.40,287.50 L127.60,290.80 L186.50,288.00 L245.50,288.00 L265.25,290.80 L285.00,286.30 L304.50,288.80" fill="none" stroke="#3a97d2" stroke-width="1.05"/>
<circle cx="69.25" cy="289.50" r="1.1" fill="#3a97d2"/>
<path d="M77.60,283.00 H80.20 M78.90,283.00 V291.00 M77.60,291.00 H80.20" stroke="#3a97d2" stroke-width="0.8" fill="none"/>
<circle cx="78.90" cy="287.00" r="1.1" fill="#3a97d2"/>
<path d="M87.10,282.00 H89.70 M88.40,282.00 V293.00 M87.10,293.00 H89.70" stroke="#3a97d2" stroke-width="0.8" fill="none"/>
<circle cx="88.40" cy="287.50" r="1.1" fill="#3a97d2"/>
<path d="M126.30,286.20 H128.90 M127.60,286.20 V295.40 M126.30,295.40 H128.90" stroke="#3a97d2" stroke-width="0.8" fill="none"/>
<circle cx="127.60" cy="290.80" r="1.1" fill="#3a97d2"/>
<path d="M185.20,283.20 H187.80 M186.50,283.20 V292.80 M185.20,292.80 H187.80" stroke="#3a97d2" stroke-width="0.8" fill="none"/>
<circle cx="186.50" cy="288.00" r="1.1" fill="#3a97d2"/>
<path d="M244.20,283.50 H246.80 M245.50,283.50 V292.50 M244.20,292.50 H246.80" stroke="#3a97d2" stroke-width="0.8" fill="none"/>
<circle cx="245.50" cy="288.00" r="1.1" fill="#3a97d2"/>
<path d="M263.95,286.30 H266.55 M265.25,286.30 V295.30 M263.95,295.30 H266.55" stroke="#3a97d2" stroke-width="0.8" fill="none"/>
<circle cx="265.25" cy="290.80" r="1.1" fill="#3a97d2"/>
<path d="M283.70,281.30 H286.30 M285.00,281.30 V291.30 M283.70,291.30 H286.30" stroke="#3a97d2" stroke-width="0.8" fill="none"/>
<circle cx="285.00" cy="286.30" r="1.1" fill="#3a97d2"/>
<path d="M303.20,283.80 H305.80 M304.50,283.80 V293.80 M303.20,293.80 H305.80" stroke="#3a97d2" stroke-width="0.8" fill="none"/>
<circle cx="304.50" cy="288.80" r="1.1" fill="#3a97d2"/>
<text x="68.75" y="374.30" font-size="8.1" fill="#1e1e1e" textLength="236.25" lengthAdjust="spacing">Least squares means of change from baseline in hemoglobin in the core</text>
<text x="129.50" y="383.20" font-size="8.1" fill="#1e1e1e" textLength="115.00" lengthAdjust="spacing">treatment period (Full Analysis Set)</text>
<text transform="translate(38.86,433.10) rotate(-90)" x="0" y="0" font-size="7.2" font-weight="bold" fill="#262626" textLength="38.6" lengthAdjust="spacingAndGlyphs">Adjusted change</text>
<text transform="translate(47.46,438.10) rotate(-90)" x="0" y="0" font-size="7.2" font-weight="bold" fill="#262626" textLength="48.5" lengthAdjust="spacingAndGlyphs">from baseline (g/dL)</text>
<path d="M64.5,387.5 V446.6 H310" fill="none" stroke="#1a1a1a" stroke-width="1.15"/>
<line x1="61.3" y1="388.65" x2="64.5" y2="388.65" stroke="#1a1a1a" stroke-width="0.9"/>
<text x="58.40" y="390.85" font-size="5.1" text-anchor="end" fill="#222" stroke="#222" stroke-width="0.12">6</text>
<line x1="61.3" y1="401.35" x2="64.5" y2="401.35" stroke="#1a1a1a" stroke-width="0.9"/>
<text x="58.40" y="403.55" font-size="5.1" text-anchor="end" fill="#222" stroke="#222" stroke-width="0.12">4</text>
<line x1="61.3" y1="414.05" x2="64.5" y2="414.05" stroke="#1a1a1a" stroke-width="0.9"/>
<text x="58.40" y="416.25" font-size="5.1" text-anchor="end" fill="#222" stroke="#222" stroke-width="0.12">2</text>
<line x1="61.3" y1="426.75" x2="64.5" y2="426.75" stroke="#1a1a1a" stroke-width="0.9"/>
<text x="58.40" y="428.95" font-size="5.1" text-anchor="end" fill="#222" stroke="#222" stroke-width="0.12">0</text>
<line x1="61.3" y1="439.45" x2="64.5" y2="439.45" stroke="#1a1a1a" stroke-width="0.9"/>
<text x="58.40" y="441.65" font-size="5.1" text-anchor="end" fill="#222" stroke="#222" stroke-width="0.12">&#8722;2</text>
<line x1="69.25" y1="446.6" x2="69.25" y2="449.6" stroke="#1a1a1a" stroke-width="0.9"/>
<text transform="translate(71.85,455.60) rotate(-45)" font-size="5.6" text-anchor="end" fill="#222" stroke="#222" stroke-width="0.12">Bas</text>
<line x1="78.9" y1="446.6" x2="78.9" y2="449.6" stroke="#1a1a1a" stroke-width="0.9"/>
<text transform="translate(81.50,455.60) rotate(-45)" font-size="5.6" text-anchor="end" fill="#222" stroke="#222" stroke-width="0.12">Day 7</text>
<line x1="88.4" y1="446.6" x2="88.4" y2="449.6" stroke="#1a1a1a" stroke-width="0.9"/>
<text transform="translate(91.00,455.60) rotate(-45)" font-size="5.6" text-anchor="end" fill="#222" stroke="#222" stroke-width="0.12">Day 14</text>
<line x1="108.0" y1="446.6" x2="108.0" y2="449.6" stroke="#1a1a1a" stroke-width="0.9"/>
<text transform="translate(110.60,455.60) rotate(-45)" font-size="5.6" text-anchor="end" fill="#222" stroke="#222" stroke-width="0.12">Day 28</text>
<line x1="127.6" y1="446.6" x2="127.6" y2="449.6" stroke="#1a1a1a" stroke-width="0.9"/>
<text transform="translate(130.20,455.60) rotate(-45)" font-size="5.6" text-anchor="end" fill="#222" stroke="#222" stroke-width="0.12">Day 42</text>
<line x1="147.1" y1="446.6" x2="147.1" y2="449.6" stroke="#1a1a1a" stroke-width="0.9"/>
<text transform="translate(149.70,455.60) rotate(-45)" font-size="5.6" text-anchor="end" fill="#222" stroke="#222" stroke-width="0.12">Day 56</text>
<line x1="186.5" y1="446.6" x2="186.5" y2="449.6" stroke="#1a1a1a" stroke-width="0.9"/>
<text transform="translate(189.10,455.60) rotate(-45)" font-size="5.6" text-anchor="end" fill="#222" stroke="#222" stroke-width="0.12">Day 84</text>
<line x1="225.8" y1="446.6" x2="225.8" y2="449.6" stroke="#1a1a1a" stroke-width="0.9"/>
<text transform="translate(228.40,455.60) rotate(-45)" font-size="5.6" text-anchor="end" fill="#222" stroke="#222" stroke-width="0.12">Day 112</text>
<line x1="245.5" y1="446.6" x2="245.5" y2="449.6" stroke="#1a1a1a" stroke-width="0.9"/>
<text transform="translate(248.10,455.60) rotate(-45)" font-size="5.6" text-anchor="end" fill="#222" stroke="#222" stroke-width="0.12">Day 126</text>
<line x1="265.25" y1="446.6" x2="265.25" y2="449.6" stroke="#1a1a1a" stroke-width="0.9"/>
<text transform="translate(267.85,455.60) rotate(-45)" font-size="5.6" text-anchor="end" fill="#222" stroke="#222" stroke-width="0.12">Day 140</text>
<line x1="285.0" y1="446.6" x2="285.0" y2="449.6" stroke="#1a1a1a" stroke-width="0.9"/>
<text transform="translate(287.60,455.60) rotate(-45)" font-size="5.6" text-anchor="end" fill="#222" stroke="#222" stroke-width="0.12">Day 154</text>
<line x1="304.5" y1="446.6" x2="304.5" y2="449.6" stroke="#1a1a1a" stroke-width="0.9"/>
<text transform="translate(307.10,455.60) rotate(-45)" font-size="5.6" text-anchor="end" fill="#222" stroke="#222" stroke-width="0.12">Day 168</text>
<text x="182.25" y="480.16" font-size="7.2" font-weight="bold" fill="#262626" textLength="9.7" lengthAdjust="spacingAndGlyphs">Visit</text>
<text x="61.00" y="445.20" font-size="5.3" text-anchor="end" fill="#52a752" >Iptacopan</text>
<text x="61.00" y="451.30" font-size="5.3" text-anchor="end" fill="#52a752" >200mg b.i.d.</text>
<text x="69.25" y="445.20" font-size="5.0" text-anchor="middle" fill="#52a752" >40</text>
<text x="78.90" y="445.20" font-size="5.0" text-anchor="middle" fill="#52a752" >35</text>
<text x="88.40" y="445.20" font-size="5.0" text-anchor="middle" fill="#52a752" >34</text>
<text x="108.00" y="445.20" font-size="5.0" text-anchor="middle" fill="#52a752" >31</text>
<text x="127.60" y="445.20" font-size="5.0" text-anchor="middle" fill="#52a752" >35</text>
<text x="147.10" y="445.20" font-size="5.0" text-anchor="middle" fill="#52a752" >37</text>
<text x="186.50" y="445.20" font-size="5.0" text-anchor="middle" fill="#52a752" >36</text>
<text x="225.80" y="445.20" font-size="5.0" text-anchor="middle" fill="#52a752" >32</text>
<text x="245.50" y="445.20" font-size="5.0" text-anchor="middle" fill="#52a752" >30</text>
<text x="265.25" y="445.20" font-size="5.0" text-anchor="middle" fill="#52a752" >34</text>
<text x="285.00" y="445.20" font-size="5.0" text-anchor="middle" fill="#52a752" >32</text>
<text x="304.50" y="445.20" font-size="5.0" text-anchor="middle" fill="#52a752" >39</text>
<path d="M69.25,426.75 L78.90,421.30 L88.40,416.80 L108.00,413.80 L127.60,410.60 L147.10,408.10 L186.50,405.60 L225.80,402.60 L245.50,401.30 L265.25,399.30 L285.00,398.30 L304.50,398.00" fill="none" stroke="#45a346" stroke-width="1.05"/>
<circle cx="69.25" cy="426.75" r="1.1" fill="#45a346"/>
<path d="M77.60,419.50 H80.20 M78.90,419.50 V423.10 M77.60,423.10 H80.20" stroke="#45a346" stroke-width="0.8" fill="none"/>
<circle cx="78.90" cy="421.30" r="1.1" fill="#45a346"/>
<path d="M87.10,414.60 H89.70 M88.40,414.60 V419.00 M87.10,419.00 H89.70" stroke="#45a346" stroke-width="0.8" fill="none"/>
<circle cx="88.40" cy="416.80" r="1.1" fill="#45a346"/>
<path d="M106.70,411.60 H109.30 M108.00,411.60 V416.00 M106.70,416.00 H109.30" stroke="#45a346" stroke-width="0.8" fill="none"/>
<circle cx="108.00" cy="413.80" r="1.1" fill="#45a346"/>
<path d="M126.30,408.10 H128.90 M127.60,408.10 V413.10 M126.30,413.10 H128.90" stroke="#45a346" stroke-width="0.8" fill="none"/>
<circle cx="127.60" cy="410.60" r="1.1" fill="#45a346"/>
<path d="M145.80,405.60 H148.40 M147.10,405.60 V410.60 M145.80,410.60 H148.40" stroke="#45a346" stroke-width="0.8" fill="none"/>
<circle cx="147.10" cy="408.10" r="1.1" fill="#45a346"/>
<path d="M185.20,403.10 H187.80 M186.50,403.10 V408.10 M185.20,408.10 H187.80" stroke="#45a346" stroke-width="0.8" fill="none"/>
<circle cx="186.50" cy="405.60" r="1.1" fill="#45a346"/>
<path d="M224.50,400.60 H227.10 M225.80,400.60 V404.60 M224.50,404.60 H227.10" stroke="#45a346" stroke-width="0.8" fill="none"/>
<circle cx="225.80" cy="402.60" r="1.1" fill="#45a346"/>
<path d="M244.20,399.30 H246.80 M245.50,399.30 V403.30 M244.20,403.30 H246.80" stroke="#45a346" stroke-width="0.8" fill="none"/>
<circle cx="245.50" cy="401.30" r="1.1" fill="#45a346"/>
<path d="M263.95,396.80 H266.55 M265.25,396.80 V401.80 M263.95,401.80 H266.55" stroke="#45a346" stroke-width="0.8" fill="none"/>
<circle cx="265.25" cy="399.30" r="1.1" fill="#45a346"/>
<path d="M283.70,395.80 H286.30 M285.00,395.80 V400.80 M283.70,400.80 H286.30" stroke="#45a346" stroke-width="0.8" fill="none"/>
<circle cx="285.00" cy="398.30" r="1.1" fill="#45a346"/>
<path d="M303.20,395.50 H305.80 M304.50,395.50 V400.50 M303.20,400.50 H305.80" stroke="#45a346" stroke-width="0.8" fill="none"/>
<circle cx="304.50" cy="398.00" r="1.1" fill="#45a346"/>
<text x="72.50" y="491.90" font-size="8.1" fill="#1e1e1e" textLength="229.50" lengthAdjust="spacing">Least squares geometric means of percentage change reduction from</text>
<text x="73.00" y="501.10" font-size="8.1" fill="#1e1e1e" textLength="228.25" lengthAdjust="spacing">baseline in LDH levels in the core treatment period (Full Analysis Set)</text>
<text transform="translate(13.66,555.20) rotate(-90)" x="0" y="0" font-size="7.2" font-weight="bold" fill="#262626" textLength="45.0" lengthAdjust="spacingAndGlyphs">Percentage change</text>
<text transform="translate(22.76,550.00) rotate(-90)" x="0" y="0" font-size="7.2" font-weight="bold" fill="#262626" textLength="34.6" lengthAdjust="spacingAndGlyphs">reduction from</text>
<text transform="translate(31.36,545.20) rotate(-90)" x="0" y="0" font-size="7.2" font-weight="bold" fill="#262626" textLength="24.6" lengthAdjust="spacingAndGlyphs">baseline in</text>
<text transform="translate(41.36,550.80) rotate(-90)" x="0" y="0" font-size="7.2" font-weight="bold" fill="#262626" textLength="34.6" lengthAdjust="spacingAndGlyphs">LDH levels (%)</text>
<path d="M64.5,505.5 V563.5 H310" fill="none" stroke="#1a1a1a" stroke-width="1.15"/>
<line x1="61.3" y1="507.54" x2="64.5" y2="507.54" stroke="#1a1a1a" stroke-width="0.9"/>
<text x="58.40" y="509.74" font-size="5.1" text-anchor="end" fill="#222" stroke="#222" stroke-width="0.12">20</text>
<line x1="61.3" y1="514.50" x2="64.5" y2="514.50" stroke="#1a1a1a" stroke-width="0.9"/>
<text x="58.40" y="516.70" font-size="5.1" text-anchor="end" fill="#222" stroke="#222" stroke-width="0.12">0</text>
<line x1="61.3" y1="521.46" x2="64.5" y2="521.46" stroke="#1a1a1a" stroke-width="0.9"/>
<text x="58.40" y="523.66" font-size="5.1" text-anchor="end" fill="#222" stroke="#222" stroke-width="0.12">&#8722;20</text>
<line x1="61.3" y1="528.42" x2="64.5" y2="528.42" stroke="#1a1a1a" stroke-width="0.9"/>
<text x="58.40" y="530.62" font-size="5.1" text-anchor="end" fill="#222" stroke="#222" stroke-width="0.12">&#8722;40</text>
<line x1="61.3" y1="535.38" x2="64.5" y2="535.38" stroke="#1a1a1a" stroke-width="0.9"/>
<text x="58.40" y="537.58" font-size="5.1" text-anchor="end" fill="#222" stroke="#222" stroke-width="0.12">&#8722;60</text>
<line x1="61.3" y1="542.34" x2="64.5" y2="542.34" stroke="#1a1a1a" stroke-width="0.9"/>
<text x="58.40" y="544.54" font-size="5.1" text-anchor="end" fill="#222" stroke="#222" stroke-width="0.12">&#8722;80</text>
<line x1="61.3" y1="549.30" x2="64.5" y2="549.30" stroke="#1a1a1a" stroke-width="0.9"/>
<text x="58.40" y="551.50" font-size="5.1" text-anchor="end" fill="#222" stroke="#222" stroke-width="0.12">&#8722;100</text>
<line x1="61.3" y1="556.26" x2="64.5" y2="556.26" stroke="#1a1a1a" stroke-width="0.9"/>
<text x="58.40" y="558.46" font-size="5.1" text-anchor="end" fill="#222" stroke="#222" stroke-width="0.12">&#8722;120</text>
<line x1="69.25" y1="563.5" x2="69.25" y2="566.5" stroke="#1a1a1a" stroke-width="0.9"/>
<text transform="translate(71.85,572.50) rotate(-45)" font-size="5.6" text-anchor="end" fill="#222" stroke="#222" stroke-width="0.12">Bas</text>
<line x1="78.9" y1="563.5" x2="78.9" y2="566.5" stroke="#1a1a1a" stroke-width="0.9"/>
<text transform="translate(81.50,572.50) rotate(-45)" font-size="5.6" text-anchor="end" fill="#222" stroke="#222" stroke-width="0.12">Day 7</text>
<line x1="88.4" y1="563.5" x2="88.4" y2="566.5" stroke="#1a1a1a" stroke-width="0.9"/>
<text transform="translate(91.00,572.50) rotate(-45)" font-size="5.6" text-anchor="end" fill="#222" stroke="#222" stroke-width="0.12">Day 14</text>
<line x1="108.0" y1="563.5" x2="108.0" y2="566.5" stroke="#1a1a1a" stroke-width="0.9"/>
<text transform="translate(110.60,572.50) rotate(-45)" font-size="5.6" text-anchor="end" fill="#222" stroke="#222" stroke-width="0.12">Day 28</text>
<line x1="127.6" y1="563.5" x2="127.6" y2="566.5" stroke="#1a1a1a" stroke-width="0.9"/>
<text transform="translate(130.20,572.50) rotate(-45)" font-size="5.6" text-anchor="end" fill="#222" stroke="#222" stroke-width="0.12">Day 42</text>
<line x1="147.1" y1="563.5" x2="147.1" y2="566.5" stroke="#1a1a1a" stroke-width="0.9"/>
<text transform="translate(149.70,572.50) rotate(-45)" font-size="5.6" text-anchor="end" fill="#222" stroke="#222" stroke-width="0.12">Day 56</text>
<line x1="186.5" y1="563.5" x2="186.5" y2="566.5" stroke="#1a1a1a" stroke-width="0.9"/>
<text transform="translate(189.10,572.50) rotate(-45)" font-size="5.6" text-anchor="end" fill="#222" stroke="#222" stroke-width="0.12">Day 84</text>
<line x1="225.8" y1="563.5" x2="225.8" y2="566.5" stroke="#1a1a1a" stroke-width="0.9"/>
<text transform="translate(228.40,572.50) rotate(-45)" font-size="5.6" text-anchor="end" fill="#222" stroke="#222" stroke-width="0.12">Day 112</text>
<line x1="245.5" y1="563.5" x2="245.5" y2="566.5" stroke="#1a1a1a" stroke-width="0.9"/>
<text transform="translate(248.10,572.50) rotate(-45)" font-size="5.6" text-anchor="end" fill="#222" stroke="#222" stroke-width="0.12">Day 126</text>
<line x1="265.25" y1="563.5" x2="265.25" y2="566.5" stroke="#1a1a1a" stroke-width="0.9"/>
<text transform="translate(267.85,572.50) rotate(-45)" font-size="5.6" text-anchor="end" fill="#222" stroke="#222" stroke-width="0.12">Day 140</text>
<line x1="285.0" y1="563.5" x2="285.0" y2="566.5" stroke="#1a1a1a" stroke-width="0.9"/>
<text transform="translate(287.60,572.50) rotate(-45)" font-size="5.6" text-anchor="end" fill="#222" stroke="#222" stroke-width="0.12">Day 154</text>
<line x1="304.5" y1="563.5" x2="304.5" y2="566.5" stroke="#1a1a1a" stroke-width="0.9"/>
<text transform="translate(307.10,572.50) rotate(-45)" font-size="5.6" text-anchor="end" fill="#222" stroke="#222" stroke-width="0.12">Day 168</text>
<text x="182.25" y="596.41" font-size="7.2" font-weight="bold" fill="#262626" textLength="9.7" lengthAdjust="spacingAndGlyphs">Visit</text>
<text x="61.00" y="562.60" font-size="5.3" text-anchor="end" fill="#52a752" >Iptacopan</text>
<text x="61.00" y="568.10" font-size="5.3" text-anchor="end" fill="#52a752" >200mg b.i.d.</text>
<text x="69.25" y="562.60" font-size="5.0" text-anchor="middle" fill="#52a752" >40</text>
<text x="78.90" y="562.60" font-size="5.0" text-anchor="middle" fill="#52a752" >40</text>
<text x="88.40" y="562.60" font-size="5.0" text-anchor="middle" fill="#52a752" >39</text>
<text x="108.00" y="562.60" font-size="5.0" text-anchor="middle" fill="#52a752" >39</text>
<text x="127.60" y="562.60" font-size="5.0" text-anchor="middle" fill="#52a752" >36</text>
<text x="147.10" y="562.60" font-size="5.0" text-anchor="middle" fill="#52a752" >37</text>
<text x="186.50" y="562.60" font-size="5.0" text-anchor="middle" fill="#52a752" >37</text>
<text x="225.80" y="562.60" font-size="5.0" text-anchor="middle" fill="#52a752" >31</text>
<text x="245.50" y="562.60" font-size="5.0" text-anchor="middle" fill="#52a752" >31</text>
<text x="265.25" y="562.60" font-size="5.0" text-anchor="middle" fill="#52a752" >30</text>
<text x="285.00" y="562.60" font-size="5.0" text-anchor="middle" fill="#52a752" >33</text>
<text x="304.50" y="562.60" font-size="5.0" text-anchor="middle" fill="#52a752" >29</text>
<path d="M69.25,514.50 L78.90,538.80 L88.40,544.00 L108.00,545.00 L127.60,545.00 L147.10,544.60 L186.50,543.80 L225.80,543.30 L245.50,543.30 L265.25,543.70 L285.00,543.70 L304.50,543.30" fill="none" stroke="#45a346" stroke-width="1.05"/>
<circle cx="69.25" cy="514.50" r="1.1" fill="#45a346"/>
<path d="M77.60,538.20 H80.20 M78.90,538.20 V539.40 M77.60,539.40 H80.20" stroke="#45a346" stroke-width="0.8" fill="none"/>
<circle cx="78.90" cy="538.80" r="1.1" fill="#45a346"/>
<path d="M87.10,543.40 H89.70 M88.40,543.40 V544.60 M87.10,544.60 H89.70" stroke="#45a346" stroke-width="0.8" fill="none"/>
<circle cx="88.40" cy="544.00" r="1.1" fill="#45a346"/>
<path d="M106.70,544.50 H109.30 M108.00,544.50 V545.50 M106.70,545.50 H109.30" stroke="#45a346" stroke-width="0.8" fill="none"/>
<circle cx="108.00" cy="545.00" r="1.1" fill="#45a346"/>
<path d="M126.30,544.50 H128.90 M127.60,544.50 V545.50 M126.30,545.50 H128.90" stroke="#45a346" stroke-width="0.8" fill="none"/>
<circle cx="127.60" cy="545.00" r="1.1" fill="#45a346"/>
<path d="M145.80,544.10 H148.40 M147.10,544.10 V545.10 M145.80,545.10 H148.40" stroke="#45a346" stroke-width="0.8" fill="none"/>
<circle cx="147.10" cy="544.60" r="1.1" fill="#45a346"/>
<path d="M185.20,543.30 H187.80 M186.50,543.30 V544.30 M185.20,544.30 H187.80" stroke="#45a346" stroke-width="0.8" fill="none"/>
<circle cx="186.50" cy="543.80" r="1.1" fill="#45a346"/>
<path d="M224.50,542.80 H227.10 M225.80,542.80 V543.80 M224.50,543.80 H227.10" stroke="#45a346" stroke-width="0.8" fill="none"/>
<circle cx="225.80" cy="543.30" r="1.1" fill="#45a346"/>
<path d="M244.20,542.80 H246.80 M245.50,542.80 V543.80 M244.20,543.80 H246.80" stroke="#45a346" stroke-width="0.8" fill="none"/>
<circle cx="245.50" cy="543.30" r="1.1" fill="#45a346"/>
<path d="M263.95,543.20 H266.55 M265.25,543.20 V544.20 M263.95,544.20 H266.55" stroke="#45a346" stroke-width="0.8" fill="none"/>
<circle cx="265.25" cy="543.70" r="1.1" fill="#45a346"/>
<path d="M283.70,543.20 H286.30 M285.00,543.20 V544.20 M283.70,544.20 H286.30" stroke="#45a346" stroke-width="0.8" fill="none"/>
<circle cx="285.00" cy="543.70" r="1.1" fill="#45a346"/>
<path d="M303.20,542.80 H305.80 M304.50,542.80 V543.80 M303.20,543.80 H305.80" stroke="#45a346" stroke-width="0.8" fill="none"/>
<circle cx="304.50" cy="543.30" r="1.1" fill="#45a346"/>
<text x="71.75" y="608.60" font-size="8.1" fill="#1e1e1e" textLength="230.75" lengthAdjust="spacing">Least squares means of change from baseline in FACIT-Fatigue scores</text>
<text x="111.25" y="617.40" font-size="8.1" fill="#1e1e1e" textLength="151.25" lengthAdjust="spacing">in the core treatment period (Full Analysis Set)</text>
<text transform="translate(38.86,668.10) rotate(-90)" x="0" y="0" font-size="7.2" font-weight="bold" fill="#262626" textLength="39.0" lengthAdjust="spacingAndGlyphs">Adjusted change</text>
<text transform="translate(47.46,664.80) rotate(-90)" x="0" y="0" font-size="7.2" font-weight="bold" fill="#262626" textLength="31.5" lengthAdjust="spacingAndGlyphs">from baseline</text>
<path d="M64.5,622.5 V681.9 H310" fill="none" stroke="#1a1a1a" stroke-width="1.15"/>
<line x1="61.3" y1="623.27" x2="64.5" y2="623.27" stroke="#1a1a1a" stroke-width="0.9"/>
<text x="58.40" y="625.47" font-size="4.6" text-anchor="end" fill="#222" stroke="#222" stroke-width="0.12">16</text>
<line x1="61.3" y1="628.33" x2="64.5" y2="628.33" stroke="#1a1a1a" stroke-width="0.9"/>
<text x="58.40" y="630.53" font-size="4.6" text-anchor="end" fill="#222" stroke="#222" stroke-width="0.12">14</text>
<line x1="61.3" y1="633.39" x2="64.5" y2="633.39" stroke="#1a1a1a" stroke-width="0.9"/>
<text x="58.40" y="635.59" font-size="4.6" text-anchor="end" fill="#222" stroke="#222" stroke-width="0.12">12</text>
<line x1="61.3" y1="638.45" x2="64.5" y2="638.45" stroke="#1a1a1a" stroke-width="0.9"/>
<text x="58.40" y="640.65" font-size="4.6" text-anchor="end" fill="#222" stroke="#222" stroke-width="0.12">10</text>
<line x1="61.3" y1="643.51" x2="64.5" y2="643.51" stroke="#1a1a1a" stroke-width="0.9"/>
<text x="58.40" y="645.71" font-size="4.6" text-anchor="end" fill="#222" stroke="#222" stroke-width="0.12">8</text>
<line x1="61.3" y1="648.57" x2="64.5" y2="648.57" stroke="#1a1a1a" stroke-width="0.9"/>
<text x="58.40" y="650.77" font-size="4.6" text-anchor="end" fill="#222" stroke="#222" stroke-width="0.12">6</text>
<line x1="61.3" y1="653.63" x2="64.5" y2="653.63" stroke="#1a1a1a" stroke-width="0.9"/>
<text x="58.40" y="655.83" font-size="4.6" text-anchor="end" fill="#222" stroke="#222" stroke-width="0.12">4</text>
<line x1="61.3" y1="658.69" x2="64.5" y2="658.69" stroke="#1a1a1a" stroke-width="0.9"/>
<text x="58.40" y="660.89" font-size="4.6" text-anchor="end" fill="#222" stroke="#222" stroke-width="0.12">2</text>
<line x1="61.3" y1="663.75" x2="64.5" y2="663.75" stroke="#1a1a1a" stroke-width="0.9"/>
<text x="58.40" y="665.95" font-size="4.6" text-anchor="end" fill="#222" stroke="#222" stroke-width="0.12">0</text>
<line x1="61.3" y1="668.81" x2="64.5" y2="668.81" stroke="#1a1a1a" stroke-width="0.9"/>
<text x="58.40" y="671.01" font-size="4.6" text-anchor="end" fill="#222" stroke="#222" stroke-width="0.12">&#8722;2</text>
<line x1="61.3" y1="673.87" x2="64.5" y2="673.87" stroke="#1a1a1a" stroke-width="0.9"/>
<text x="58.40" y="676.07" font-size="4.6" text-anchor="end" fill="#222" stroke="#222" stroke-width="0.12">&#8722;4</text>
<line x1="69.25" y1="681.9" x2="69.25" y2="684.9" stroke="#1a1a1a" stroke-width="0.9"/>
<text transform="translate(71.85,690.90) rotate(-45)" font-size="5.6" text-anchor="end" fill="#222" stroke="#222" stroke-width="0.12">Bas</text>
<line x1="78.9" y1="681.9" x2="78.9" y2="684.9" stroke="#1a1a1a" stroke-width="0.9"/>
<text transform="translate(81.50,690.90) rotate(-45)" font-size="5.6" text-anchor="end" fill="#222" stroke="#222" stroke-width="0.12">Day 7</text>
<line x1="88.4" y1="681.9" x2="88.4" y2="684.9" stroke="#1a1a1a" stroke-width="0.9"/>
<text transform="translate(91.00,690.90) rotate(-45)" font-size="5.6" text-anchor="end" fill="#222" stroke="#222" stroke-width="0.12">Day 14</text>
<line x1="127.6" y1="681.9" x2="127.6" y2="684.9" stroke="#1a1a1a" stroke-width="0.9"/>
<text transform="translate(130.20,690.90) rotate(-45)" font-size="5.6" text-anchor="end" fill="#222" stroke="#222" stroke-width="0.12">Day 42</text>
<line x1="186.5" y1="681.9" x2="186.5" y2="684.9" stroke="#1a1a1a" stroke-width="0.9"/>
<text transform="translate(189.10,690.90) rotate(-45)" font-size="5.6" text-anchor="end" fill="#222" stroke="#222" stroke-width="0.12">Day 84</text>
<line x1="245.5" y1="681.9" x2="245.5" y2="684.9" stroke="#1a1a1a" stroke-width="0.9"/>
<text transform="translate(248.10,690.90) rotate(-45)" font-size="5.6" text-anchor="end" fill="#222" stroke="#222" stroke-width="0.12">Day 126</text>
<line x1="265.25" y1="681.9" x2="265.25" y2="684.9" stroke="#1a1a1a" stroke-width="0.9"/>
<text transform="translate(267.85,690.90) rotate(-45)" font-size="5.6" text-anchor="end" fill="#222" stroke="#222" stroke-width="0.12">Day 140</text>
<line x1="285.0" y1="681.9" x2="285.0" y2="684.9" stroke="#1a1a1a" stroke-width="0.9"/>
<text transform="translate(287.60,690.90) rotate(-45)" font-size="5.6" text-anchor="end" fill="#222" stroke="#222" stroke-width="0.12">Day 154</text>
<line x1="304.5" y1="681.9" x2="304.5" y2="684.9" stroke="#1a1a1a" stroke-width="0.9"/>
<text transform="translate(307.10,690.90) rotate(-45)" font-size="5.6" text-anchor="end" fill="#222" stroke="#222" stroke-width="0.12">Day 168</text>
<text x="182.25" y="715.16" font-size="7.2" font-weight="bold" fill="#262626" textLength="9.7" lengthAdjust="spacingAndGlyphs">Visit</text>
<text x="61.00" y="680.40" font-size="5.3" text-anchor="end" fill="#52a752" >Iptacopan</text>
<text x="61.00" y="686.70" font-size="5.3" text-anchor="end" fill="#52a752" >200mg b.i.d.</text>
<text x="69.25" y="680.40" font-size="5.0" text-anchor="middle" fill="#52a752" >40</text>
<text x="78.90" y="680.40" font-size="5.0" text-anchor="middle" fill="#52a752" >36</text>
<text x="88.40" y="680.40" font-size="5.0" text-anchor="middle" fill="#52a752" >36</text>
<text x="127.60" y="680.40" font-size="5.0" text-anchor="middle" fill="#52a752" >33</text>
<text x="186.50" y="680.40" font-size="5.0" text-anchor="middle" fill="#52a752" >38</text>
<text x="245.50" y="680.40" font-size="5.0" text-anchor="middle" fill="#52a752" >35</text>
<text x="265.25" y="680.40" font-size="5.0" text-anchor="middle" fill="#52a752" >37</text>
<text x="285.00" y="680.40" font-size="5.0" text-anchor="middle" fill="#52a752" >36</text>
<text x="304.50" y="680.40" font-size="5.0" text-anchor="middle" fill="#52a752" >37</text>
<path d="M69.25,663.75 L78.90,655.50 L88.40,648.80 L127.60,641.50 L186.50,637.50 L245.50,638.20 L265.25,637.00 L285.00,635.80 L304.50,634.30" fill="none" stroke="#45a346" stroke-width="1.05"/>
<circle cx="69.25" cy="663.75" r="1.1" fill="#45a346"/>
<path d="M77.60,649.90 H80.20 M78.90,649.90 V661.10 M77.60,661.10 H80.20" stroke="#45a346" stroke-width="0.8" fill="none"/>
<circle cx="78.90" cy="655.50" r="1.1" fill="#45a346"/>
<path d="M87.10,642.60 H89.70 M88.40,642.60 V655.00 M87.10,655.00 H89.70" stroke="#45a346" stroke-width="0.8" fill="none"/>
<circle cx="88.40" cy="648.80" r="1.1" fill="#45a346"/>
<path d="M126.30,635.20 H128.90 M127.60,635.20 V647.80 M126.30,647.80 H128.90" stroke="#45a346" stroke-width="0.8" fill="none"/>
<circle cx="127.60" cy="641.50" r="1.1" fill="#45a346"/>
<path d="M185.20,632.00 H187.80 M186.50,632.00 V643.00 M185.20,643.00 H187.80" stroke="#45a346" stroke-width="0.8" fill="none"/>
<circle cx="186.50" cy="637.50" r="1.1" fill="#45a346"/>
<path d="M244.20,631.30 H246.80 M245.50,631.30 V645.10 M244.20,645.10 H246.80" stroke="#45a346" stroke-width="0.8" fill="none"/>
<circle cx="245.50" cy="638.20" r="1.1" fill="#45a346"/>
<path d="M263.95,630.50 H266.55 M265.25,630.50 V643.50 M263.95,643.50 H266.55" stroke="#45a346" stroke-width="0.8" fill="none"/>
<circle cx="265.25" cy="637.00" r="1.1" fill="#45a346"/>
<path d="M283.70,629.80 H286.30 M285.00,629.80 V641.80 M283.70,641.80 H286.30" stroke="#45a346" stroke-width="0.8" fill="none"/>
<circle cx="285.00" cy="635.80" r="1.1" fill="#45a346"/>
<path d="M303.20,628.60 H305.80 M304.50,628.60 V640.00 M303.20,640.00 H305.80" stroke="#45a346" stroke-width="0.8" fill="none"/>
<circle cx="304.50" cy="634.30" r="1.1" fill="#45a346"/>
<text x="368.00" y="14.00" font-size="8.1" fill="#1e1e1e" textLength="132.50" lengthAdjust="spacing">Scatter Plot of FACIT-Fatigue Score and</text>
<text x="395.00" y="22.80" font-size="8.1" fill="#1e1e1e" textLength="78.75" lengthAdjust="spacing">Hemoglobin at Day 168</text>
<path d="M361.1,28.4 V126.9 H506.8" fill="none" stroke="#1a1a1a" stroke-width="1.1"/>
<line x1="357.90000000000003" y1="125.80" x2="361.1" y2="125.80" stroke="#1a1a1a" stroke-width="0.9"/>
<text x="355.70" y="127.80" font-size="5.3" text-anchor="end" fill="#333" >0</text>
<line x1="357.90000000000003" y1="117.77" x2="361.1" y2="117.77" stroke="#1a1a1a" stroke-width="0.9"/>
<text x="355.70" y="119.77" font-size="5.3" text-anchor="end" fill="#333" >5</text>
<line x1="357.90000000000003" y1="109.73" x2="361.1" y2="109.73" stroke="#1a1a1a" stroke-width="0.9"/>
<text x="355.70" y="111.73" font-size="5.3" text-anchor="end" fill="#333" >10</text>
<line x1="357.90000000000003" y1="101.70" x2="361.1" y2="101.70" stroke="#1a1a1a" stroke-width="0.9"/>
<text x="355.70" y="103.70" font-size="5.3" text-anchor="end" fill="#333" >15</text>
<line x1="357.90000000000003" y1="93.67" x2="361.1" y2="93.67" stroke="#1a1a1a" stroke-width="0.9"/>
<text x="355.70" y="95.67" font-size="5.3" text-anchor="end" fill="#333" >20</text>
<line x1="357.90000000000003" y1="85.63" x2="361.1" y2="85.63" stroke="#1a1a1a" stroke-width="0.9"/>
<text x="355.70" y="87.63" font-size="5.3" text-anchor="end" fill="#333" >25</text>
<line x1="357.90000000000003" y1="77.60" x2="361.1" y2="77.60" stroke="#1a1a1a" stroke-width="0.9"/>
<text x="355.70" y="79.60" font-size="5.3" text-anchor="end" fill="#333" >30</text>
<line x1="357.90000000000003" y1="69.57" x2="361.1" y2="69.57" stroke="#1a1a1a" stroke-width="0.9"/>
<text x="355.70" y="71.57" font-size="5.3" text-anchor="end" fill="#333" >35</text>
<line x1="357.90000000000003" y1="61.53" x2="361.1" y2="61.53" stroke="#1a1a1a" stroke-width="0.9"/>
<text x="355.70" y="63.53" font-size="5.3" text-anchor="end" fill="#333" >40</text>
<line x1="357.90000000000003" y1="53.50" x2="361.1" y2="53.50" stroke="#1a1a1a" stroke-width="0.9"/>
<text x="355.70" y="55.50" font-size="5.3" text-anchor="end" fill="#333" >45</text>
<line x1="357.90000000000003" y1="45.47" x2="361.1" y2="45.47" stroke="#1a1a1a" stroke-width="0.9"/>
<text x="355.70" y="47.47" font-size="5.3" text-anchor="end" fill="#333" >50</text>
<line x1="357.90000000000003" y1="37.43" x2="361.1" y2="37.43" stroke="#1a1a1a" stroke-width="0.9"/>
<text x="355.70" y="39.43" font-size="5.3" text-anchor="end" fill="#333" >55</text>
<line x1="357.90000000000003" y1="29.40" x2="361.1" y2="29.40" stroke="#1a1a1a" stroke-width="0.9"/>
<text x="355.70" y="31.40" font-size="5.3" text-anchor="end" fill="#333" >60</text>
<line x1="362.50" y1="126.9" x2="362.50" y2="129.9" stroke="#1a1a1a" stroke-width="0.9"/>
<text x="362.50" y="138.00" font-size="5.3" text-anchor="middle" fill="#333" >5.0</text>
<line x1="386.37" y1="126.9" x2="386.37" y2="129.9" stroke="#1a1a1a" stroke-width="0.9"/>
<text x="386.37" y="138.00" font-size="5.3" text-anchor="middle" fill="#333" >7.5</text>
<line x1="410.24" y1="126.9" x2="410.24" y2="129.9" stroke="#1a1a1a" stroke-width="0.9"/>
<text x="410.24" y="138.00" font-size="5.3" text-anchor="middle" fill="#333" >10.0</text>
<line x1="434.10" y1="126.9" x2="434.10" y2="129.9" stroke="#1a1a1a" stroke-width="0.9"/>
<text x="434.10" y="138.00" font-size="5.3" text-anchor="middle" fill="#333" >12.5</text>
<line x1="457.97" y1="126.9" x2="457.97" y2="129.9" stroke="#1a1a1a" stroke-width="0.9"/>
<text x="457.97" y="138.00" font-size="5.3" text-anchor="middle" fill="#333" >15.0</text>
<line x1="481.84" y1="126.9" x2="481.84" y2="129.9" stroke="#1a1a1a" stroke-width="0.9"/>
<text x="481.84" y="138.00" font-size="5.3" text-anchor="middle" fill="#333" >17.5</text>
<line x1="505.71" y1="126.9" x2="505.71" y2="129.9" stroke="#1a1a1a" stroke-width="0.9"/>
<text x="505.71" y="138.00" font-size="5.3" text-anchor="middle" fill="#333" >20.0</text>
<text x="412.25" y="146.56" font-size="7.2" font-weight="bold" fill="#3a3a3a" textLength="44.1" lengthAdjust="spacingAndGlyphs">Hemoglobin (g/dL)</text>
<text transform="translate(344.20,102.90) rotate(-90)" x="0" y="0" font-size="7.0" font-weight="bold" fill="#262626" textLength="49.8" lengthAdjust="spacingAndGlyphs">FACIT-FATIGUE score</text>
<text x="473.70" y="115.50" font-size="5.5" fill="#333" >R = 0.4750</text>
<text x="473.70" y="123.80" font-size="5.5" fill="#333" ><tspan font-style="italic">P</tspan> &lt; .0001</text>
<circle cx="404.50" cy="43.90" r="1.15" fill="#6fa3d0"/>
<circle cx="409.30" cy="43.90" r="1.15" fill="#6fa3d0"/>
<circle cx="400.30" cy="54.00" r="1.15" fill="#6fa3d0"/>
<circle cx="399.40" cy="55.20" r="1.15" fill="#6fa3d0"/>
<circle cx="386.10" cy="61.70" r="1.15" fill="#6fa3d0"/>
<circle cx="390.20" cy="61.70" r="1.15" fill="#6fa3d0"/>
<circle cx="399.20" cy="66.80" r="1.15" fill="#6fa3d0"/>
<circle cx="403.20" cy="65.30" r="1.15" fill="#6fa3d0"/>
<circle cx="403.20" cy="66.80" r="1.15" fill="#6fa3d0"/>
<circle cx="407.10" cy="64.90" r="1.15" fill="#6fa3d0"/>
<circle cx="411.90" cy="65.00" r="1.15" fill="#6fa3d0"/>
<circle cx="387.60" cy="75.00" r="1.15" fill="#6fa3d0"/>
<circle cx="386.80" cy="76.50" r="1.15" fill="#6fa3d0"/>
<circle cx="385.10" cy="81.30" r="1.15" fill="#6fa3d0"/>
<circle cx="379.30" cy="84.20" r="1.15" fill="#6fa3d0"/>
<circle cx="391.90" cy="84.50" r="1.15" fill="#6fa3d0"/>
<circle cx="390.70" cy="89.20" r="1.15" fill="#6fa3d0"/>
<circle cx="398.40" cy="79.40" r="1.15" fill="#6fa3d0"/>
<circle cx="402.10" cy="97.20" r="1.15" fill="#6fa3d0"/>
<circle cx="406.40" cy="99.00" r="1.15" fill="#6fa3d0"/>
<circle cx="403.20" cy="102.30" r="1.15" fill="#6fa3d0"/>
<circle cx="400.60" cy="108.70" r="1.15" fill="#6fa3d0"/>
<circle cx="407.10" cy="106.90" r="1.15" fill="#6fa3d0"/>
<circle cx="381.50" cy="126.10" r="1.15" fill="#6fa3d0"/>
<circle cx="421.50" cy="63.40" r="1.15" fill="#6fa3d0"/>
<circle cx="421.50" cy="66.80" r="1.15" fill="#6fa3d0"/>
<circle cx="415.70" cy="79.40" r="1.15" fill="#6fa3d0"/>
<circle cx="419.60" cy="91.00" r="1.15" fill="#6fa3d0"/>
<path d="M411.80,54.00 H414.00 M412.90,52.90 V55.10" stroke="#6a786a" stroke-width="0.75"/>
<path d="M406.00,75.00 H408.20 M407.10,73.90 V76.10" stroke="#6a786a" stroke-width="0.75"/>
<path d="M414.30,79.70 H416.50 M415.40,78.60 V80.80" stroke="#6a786a" stroke-width="0.75"/>
<path d="M410.80,84.20 H413.00 M411.90,83.10 V85.30" stroke="#6a786a" stroke-width="0.75"/>
<path d="M410.80,87.70 H413.00 M411.90,86.60 V88.80" stroke="#6a786a" stroke-width="0.75"/>
<path d="M418.40,91.00 H420.60 M419.50,89.90 V92.10" stroke="#6a786a" stroke-width="0.75"/>
<path d="M451.30,42.40 H453.50 M452.40,41.30 V43.50" stroke="#6a786a" stroke-width="0.75"/>
<path d="M458.10,56.60 H460.30 M459.20,55.50 V57.70" stroke="#6a786a" stroke-width="0.75"/>
<path d="M430.10,62.00 H432.30 M431.20,60.90 V63.10" stroke="#6a786a" stroke-width="0.75"/>
<path d="M451.30,63.40 H453.50 M452.40,62.30 V64.50" stroke="#6a786a" stroke-width="0.75"/>
<path d="M445.50,66.80 H447.70 M446.60,65.70 V67.90" stroke="#6a786a" stroke-width="0.75"/>
<path d="M432.00,70.00 H434.20 M433.10,68.90 V71.10" stroke="#6a786a" stroke-width="0.75"/>
<path d="M438.90,70.00 H441.10 M440.00,68.90 V71.10" stroke="#6a786a" stroke-width="0.75"/>
<path d="M425.80,84.50 H428.00 M426.90,83.40 V85.60" stroke="#6a786a" stroke-width="0.75"/>
<path d="M434.20,92.00 H436.40 M435.30,90.90 V93.10" stroke="#6a786a" stroke-width="0.75"/>
<path d="M433.50,98.70 H435.70 M434.60,97.60 V99.80" stroke="#6a786a" stroke-width="0.75"/>
<path d="M495.90,63.00 H498.10 M497.00,61.90 V64.10" stroke="#6a786a" stroke-width="0.75"/>
<path d="M416.90,46.00 H419.10 M418.00,44.90 V47.10" stroke="#4f9a50" stroke-width="0.75"/>
<path d="M418.00,47.00 H420.20 M419.10,45.90 V48.10" stroke="#4f9a50" stroke-width="0.75"/>
<path d="M421.60,46.00 H423.80 M422.70,44.90 V47.10" stroke="#4f9a50" stroke-width="0.75"/>
<path d="M417.60,50.80 H419.80 M418.70,49.70 V51.90" stroke="#4f9a50" stroke-width="0.75"/>
<path d="M417.60,51.80 H419.80 M418.70,50.70 V52.90" stroke="#4f9a50" stroke-width="0.75"/>
<path d="M421.60,50.80 H423.80 M422.70,49.70 V51.90" stroke="#4f9a50" stroke-width="0.75"/>
<path d="M424.80,47.50 H427.00 M425.90,46.40 V48.60" stroke="#4f9a50" stroke-width="0.75"/>
<path d="M432.00,48.60 H434.20 M433.10,47.50 V49.70" stroke="#4f9a50" stroke-width="0.75"/>
<path d="M435.70,45.30 H437.90 M436.80,44.20 V46.40" stroke="#4f9a50" stroke-width="0.75"/>
<path d="M436.80,44.60 H439.00 M437.90,43.50 V45.70" stroke="#4f9a50" stroke-width="0.75"/>
<path d="M438.90,42.40 H441.10 M440.00,41.30 V43.50" stroke="#4f9a50" stroke-width="0.75"/>
<path d="M440.70,42.40 H442.90 M441.80,41.30 V43.50" stroke="#4f9a50" stroke-width="0.75"/>
<path d="M439.30,45.30 H441.50 M440.40,44.20 V46.40" stroke="#4f9a50" stroke-width="0.75"/>
<path d="M441.20,45.30 H443.40 M442.30,44.20 V46.40" stroke="#4f9a50" stroke-width="0.75"/>
<path d="M443.60,45.70 H445.80 M444.70,44.60 V46.80" stroke="#4f9a50" stroke-width="0.75"/>
<path d="M437.10,48.20 H439.30 M438.20,47.10 V49.30" stroke="#4f9a50" stroke-width="0.75"/>
<path d="M440.00,48.90 H442.20 M441.10,47.80 V50.00" stroke="#4f9a50" stroke-width="0.75"/>
<path d="M442.90,52.30 H445.10 M444.00,51.20 V53.40" stroke="#4f9a50" stroke-width="0.75"/>
<path d="M424.80,54.00 H427.00 M425.90,52.90 V55.10" stroke="#4f9a50" stroke-width="0.75"/>
<path d="M426.70,52.60 H428.90 M427.80,51.50 V53.70" stroke="#4f9a50" stroke-width="0.75"/>
<path d="M428.10,56.90 H430.30 M429.20,55.80 V58.00" stroke="#4f9a50" stroke-width="0.75"/>
<path d="M432.00,53.70 H434.20 M433.10,52.60 V54.80" stroke="#4f9a50" stroke-width="0.75"/>
<path d="M434.20,56.20 H436.40 M435.30,55.10 V57.30" stroke="#4f9a50" stroke-width="0.75"/>
<path d="M437.80,58.60 H440.00 M438.90,57.50 V59.70" stroke="#4f9a50" stroke-width="0.75"/>
<path d="M440.00,58.60 H442.20 M441.10,57.50 V59.70" stroke="#4f9a50" stroke-width="0.75"/>
<path d="M442.20,59.50 H444.40 M443.30,58.40 V60.60" stroke="#4f9a50" stroke-width="0.75"/>
<path d="M443.60,57.60 H445.80 M444.70,56.50 V58.70" stroke="#4f9a50" stroke-width="0.75"/>
<path d="M445.10,55.50 H447.30 M446.20,54.40 V56.60" stroke="#4f9a50" stroke-width="0.75"/>
<path d="M444.10,58.60 H446.30 M445.20,57.50 V59.70" stroke="#4f9a50" stroke-width="0.75"/>
<path d="M439.30,63.00 H441.50 M440.40,61.90 V64.10" stroke="#4f9a50" stroke-width="0.75"/>
<path d="M438.60,62.00 H440.80 M439.70,60.90 V63.10" stroke="#4f9a50" stroke-width="0.75"/>
<path d="M421.20,77.90 H423.40 M422.30,76.80 V79.00" stroke="#4f9a50" stroke-width="0.75"/>
<text x="375.50" y="164.80" font-size="8.1" fill="#1e1e1e" textLength="118.25" lengthAdjust="spacing">Scatter Plot of FACIT-Fatigue Score</text>
<text x="378.75" y="174.20" font-size="8.1" fill="#1e1e1e" textLength="111.75" lengthAdjust="spacing">Log-Transformed LDH at Day 168</text>
<path d="M361.1,180.25 V279.8 H506.8" fill="none" stroke="#1a1a1a" stroke-width="1.1"/>
<line x1="357.90000000000003" y1="277.50" x2="361.1" y2="277.50" stroke="#1a1a1a" stroke-width="0.9"/>
<text x="355.70" y="279.50" font-size="5.3" text-anchor="end" fill="#333" >0</text>
<line x1="357.90000000000003" y1="269.48" x2="361.1" y2="269.48" stroke="#1a1a1a" stroke-width="0.9"/>
<text x="355.70" y="271.48" font-size="5.3" text-anchor="end" fill="#333" >5</text>
<line x1="357.90000000000003" y1="261.46" x2="361.1" y2="261.46" stroke="#1a1a1a" stroke-width="0.9"/>
<text x="355.70" y="263.46" font-size="5.3" text-anchor="end" fill="#333" >10</text>
<line x1="357.90000000000003" y1="253.44" x2="361.1" y2="253.44" stroke="#1a1a1a" stroke-width="0.9"/>
<text x="355.70" y="255.44" font-size="5.3" text-anchor="end" fill="#333" >15</text>
<line x1="357.90000000000003" y1="245.42" x2="361.1" y2="245.42" stroke="#1a1a1a" stroke-width="0.9"/>
<text x="355.70" y="247.42" font-size="5.3" text-anchor="end" fill="#333" >20</text>
<line x1="357.90000000000003" y1="237.40" x2="361.1" y2="237.40" stroke="#1a1a1a" stroke-width="0.9"/>
<text x="355.70" y="239.40" font-size="5.3" text-anchor="end" fill="#333" >25</text>
<line x1="357.90000000000003" y1="229.38" x2="361.1" y2="229.38" stroke="#1a1a1a" stroke-width="0.9"/>
<text x="355.70" y="231.38" font-size="5.3" text-anchor="end" fill="#333" >30</text>
<line x1="357.90000000000003" y1="221.35" x2="361.1" y2="221.35" stroke="#1a1a1a" stroke-width="0.9"/>
<text x="355.70" y="223.35" font-size="5.3" text-anchor="end" fill="#333" >35</text>
<line x1="357.90000000000003" y1="213.33" x2="361.1" y2="213.33" stroke="#1a1a1a" stroke-width="0.9"/>
<text x="355.70" y="215.33" font-size="5.3" text-anchor="end" fill="#333" >40</text>
<line x1="357.90000000000003" y1="205.31" x2="361.1" y2="205.31" stroke="#1a1a1a" stroke-width="0.9"/>
<text x="355.70" y="207.31" font-size="5.3" text-anchor="end" fill="#333" >45</text>
<line x1="357.90000000000003" y1="197.29" x2="361.1" y2="197.29" stroke="#1a1a1a" stroke-width="0.9"/>
<text x="355.70" y="199.29" font-size="5.3" text-anchor="end" fill="#333" >50</text>
<line x1="357.90000000000003" y1="189.27" x2="361.1" y2="189.27" stroke="#1a1a1a" stroke-width="0.9"/>
<text x="355.70" y="191.27" font-size="5.3" text-anchor="end" fill="#333" >55</text>
<line x1="357.90000000000003" y1="181.25" x2="361.1" y2="181.25" stroke="#1a1a1a" stroke-width="0.9"/>
<text x="355.70" y="183.25" font-size="5.3" text-anchor="end" fill="#333" >60</text>
<line x1="362.50" y1="279.8" x2="362.50" y2="282.8" stroke="#1a1a1a" stroke-width="0.9"/>
<text x="362.50" y="289.30" font-size="5.3" text-anchor="middle" fill="#333" >0</text>
<line x1="376.88" y1="279.8" x2="376.88" y2="282.8" stroke="#1a1a1a" stroke-width="0.9"/>
<text x="376.88" y="289.30" font-size="5.3" text-anchor="middle" fill="#333" >1</text>
<line x1="391.25" y1="279.8" x2="391.25" y2="282.8" stroke="#1a1a1a" stroke-width="0.9"/>
<text x="391.25" y="289.30" font-size="5.3" text-anchor="middle" fill="#333" >2</text>
<line x1="405.62" y1="279.8" x2="405.62" y2="282.8" stroke="#1a1a1a" stroke-width="0.9"/>
<text x="405.62" y="289.30" font-size="5.3" text-anchor="middle" fill="#333" >3</text>
<line x1="420.00" y1="279.8" x2="420.00" y2="282.8" stroke="#1a1a1a" stroke-width="0.9"/>
<text x="420.00" y="289.30" font-size="5.3" text-anchor="middle" fill="#333" >4</text>
<line x1="434.38" y1="279.8" x2="434.38" y2="282.8" stroke="#1a1a1a" stroke-width="0.9"/>
<text x="434.38" y="289.30" font-size="5.3" text-anchor="middle" fill="#333" >5</text>
<line x1="448.75" y1="279.8" x2="448.75" y2="282.8" stroke="#1a1a1a" stroke-width="0.9"/>
<text x="448.75" y="289.30" font-size="5.3" text-anchor="middle" fill="#333" >6</text>
<line x1="463.12" y1="279.8" x2="463.12" y2="282.8" stroke="#1a1a1a" stroke-width="0.9"/>
<text x="463.12" y="289.30" font-size="5.3" text-anchor="middle" fill="#333" >7</text>
<line x1="477.50" y1="279.8" x2="477.50" y2="282.8" stroke="#1a1a1a" stroke-width="0.9"/>
<text x="477.50" y="289.30" font-size="5.3" text-anchor="middle" fill="#333" >8</text>
<line x1="491.88" y1="279.8" x2="491.88" y2="282.8" stroke="#1a1a1a" stroke-width="0.9"/>
<text x="491.88" y="289.30" font-size="5.3" text-anchor="middle" fill="#333" >9</text>
<line x1="506.25" y1="279.8" x2="506.25" y2="282.8" stroke="#1a1a1a" stroke-width="0.9"/>
<text x="506.25" y="289.30" font-size="5.3" text-anchor="middle" fill="#333" >10</text>
<text x="409.40" y="299.91" font-size="7.2" font-weight="bold" fill="#3a3a3a" textLength="50.6" lengthAdjust="spacingAndGlyphs">Log-transformed LDH</text>
<text transform="translate(344.20,254.68) rotate(-90)" x="0" y="0" font-size="7.0" font-weight="bold" fill="#262626" textLength="49.8" lengthAdjust="spacingAndGlyphs">FACIT-FATIGUE score</text>
<text x="473.70" y="268.00" font-size="5.5" fill="#333" >R = &#8722;0.1503</text>
<text x="473.70" y="276.00" font-size="5.5" fill="#333" ><tspan font-style="italic">P</tspan> = .1597</text>
<circle cx="436.60" cy="213.30" r="1.15" fill="#6fa3d0"/>
<circle cx="438.00" cy="214.70" r="1.15" fill="#6fa3d0"/>
<circle cx="437.30" cy="217.50" r="1.15" fill="#6fa3d0"/>
<circle cx="439.30" cy="218.10" r="1.15" fill="#6fa3d0"/>
<circle cx="441.40" cy="216.80" r="1.15" fill="#6fa3d0"/>
<circle cx="443.50" cy="216.10" r="1.15" fill="#6fa3d0"/>
<circle cx="440.70" cy="214.70" r="1.15" fill="#6fa3d0"/>
<circle cx="449.00" cy="216.50" r="1.15" fill="#6fa3d0"/>
<circle cx="445.60" cy="205.70" r="1.15" fill="#6fa3d0"/>
<circle cx="446.20" cy="205.00" r="1.15" fill="#6fa3d0"/>
<circle cx="439.30" cy="229.90" r="1.15" fill="#6fa3d0"/>
<circle cx="441.40" cy="232.00" r="1.15" fill="#6fa3d0"/>
<circle cx="442.80" cy="231.30" r="1.15" fill="#6fa3d0"/>
<circle cx="440.70" cy="233.30" r="1.15" fill="#6fa3d0"/>
<circle cx="439.30" cy="235.80" r="1.15" fill="#6fa3d0"/>
<circle cx="443.50" cy="235.80" r="1.15" fill="#6fa3d0"/>
<circle cx="448.30" cy="227.80" r="1.15" fill="#6fa3d0"/>
<circle cx="453.80" cy="235.80" r="1.15" fill="#6fa3d0"/>
<circle cx="442.10" cy="240.90" r="1.15" fill="#6fa3d0"/>
<circle cx="440.70" cy="242.30" r="1.15" fill="#6fa3d0"/>
<circle cx="439.30" cy="244.10" r="1.15" fill="#6fa3d0"/>
<circle cx="444.20" cy="248.80" r="1.15" fill="#6fa3d0"/>
<circle cx="441.40" cy="253.60" r="1.15" fill="#6fa3d0"/>
<circle cx="441.40" cy="258.50" r="1.15" fill="#6fa3d0"/>
<circle cx="446.20" cy="259.60" r="1.15" fill="#6fa3d0"/>
<circle cx="449.00" cy="276.90" r="1.15" fill="#6fa3d0"/>
<path d="M434.10,221.60 H436.30 M435.20,220.50 V222.70" stroke="#6a786a" stroke-width="0.75"/>
<path d="M458.30,226.20 H460.50 M459.40,225.10 V227.30" stroke="#6a786a" stroke-width="0.75"/>
<path d="M447.20,238.90 H449.40 M448.30,237.80 V240.00" stroke="#6a786a" stroke-width="0.75"/>
<path d="M447.20,250.60 H449.40 M448.30,249.50 V251.70" stroke="#6a786a" stroke-width="0.75"/>
<path d="M436.20,196.00 H438.40 M437.30,194.90 V197.10" stroke="#4f9a50" stroke-width="0.75"/>
<path d="M437.50,198.10 H439.70 M438.60,197.00 V199.20" stroke="#4f9a50" stroke-width="0.75"/>
<path d="M439.60,195.40 H441.80 M440.70,194.30 V196.50" stroke="#4f9a50" stroke-width="0.75"/>
<path d="M441.00,194.70 H443.20 M442.10,193.60 V195.80" stroke="#4f9a50" stroke-width="0.75"/>
<path d="M443.10,195.40 H445.30 M444.20,194.30 V196.50" stroke="#4f9a50" stroke-width="0.75"/>
<path d="M445.10,195.00 H447.30 M446.20,193.90 V196.10" stroke="#4f9a50" stroke-width="0.75"/>
<path d="M440.30,198.10 H442.50 M441.40,197.00 V199.20" stroke="#4f9a50" stroke-width="0.75"/>
<path d="M442.40,197.40 H444.60 M443.50,196.30 V198.50" stroke="#4f9a50" stroke-width="0.75"/>
<path d="M444.50,198.80 H446.70 M445.60,197.70 V199.90" stroke="#4f9a50" stroke-width="0.75"/>
<path d="M438.90,200.20 H441.10 M440.00,199.10 V201.30" stroke="#4f9a50" stroke-width="0.75"/>
<path d="M441.00,200.20 H443.20 M442.10,199.10 V201.30" stroke="#4f9a50" stroke-width="0.75"/>
<path d="M443.10,200.90 H445.30 M444.20,199.80 V202.00" stroke="#4f9a50" stroke-width="0.75"/>
<path d="M438.20,202.30 H440.40 M439.30,201.20 V203.40" stroke="#4f9a50" stroke-width="0.75"/>
<path d="M439.60,204.30 H441.80 M440.70,203.20 V205.40" stroke="#4f9a50" stroke-width="0.75"/>
<path d="M441.70,203.60 H443.90 M442.80,202.50 V204.70" stroke="#4f9a50" stroke-width="0.75"/>
<path d="M443.80,203.00 H446.00 M444.90,201.90 V204.10" stroke="#4f9a50" stroke-width="0.75"/>
<path d="M445.10,205.70 H447.30 M446.20,204.60 V206.80" stroke="#4f9a50" stroke-width="0.75"/>
<path d="M441.00,206.40 H443.20 M442.10,205.30 V207.50" stroke="#4f9a50" stroke-width="0.75"/>
<path d="M438.90,207.80 H441.10 M440.00,206.70 V208.90" stroke="#4f9a50" stroke-width="0.75"/>
<path d="M443.10,208.50 H445.30 M444.20,207.40 V209.60" stroke="#4f9a50" stroke-width="0.75"/>
<path d="M439.60,209.90 H441.80 M440.70,208.80 V211.00" stroke="#4f9a50" stroke-width="0.75"/>
<path d="M441.70,210.60 H443.90 M442.80,209.50 V211.70" stroke="#4f9a50" stroke-width="0.75"/>
<path d="M444.50,209.90 H446.70 M445.60,208.80 V211.00" stroke="#4f9a50" stroke-width="0.75"/>
<path d="M441.00,212.60 H443.20 M442.10,211.50 V213.70" stroke="#4f9a50" stroke-width="0.75"/>
<path d="M455.50,202.70 H457.70 M456.60,201.60 V203.80" stroke="#4f9a50" stroke-width="0.75"/>
<path d="M454.50,206.00 H456.70 M455.60,204.90 V207.10" stroke="#4f9a50" stroke-width="0.75"/>
<path d="M434.80,207.80 H437.00 M435.90,206.70 V208.90" stroke="#4f9a50" stroke-width="0.75"/>
<path d="M437.40,197.00 H439.60 M438.50,195.90 V198.10" stroke="#4f9a50" stroke-width="0.75"/>
<path d="M441.90,199.00 H444.10 M443.00,197.90 V200.10" stroke="#4f9a50" stroke-width="0.75"/>
<path d="M439.90,202.50 H442.10 M441.00,201.40 V203.60" stroke="#4f9a50" stroke-width="0.75"/>
<path d="M442.40,205.00 H444.60 M443.50,203.90 V206.10" stroke="#4f9a50" stroke-width="0.75"/>
<path d="M437.90,206.00 H440.10 M439.00,204.90 V207.10" stroke="#4f9a50" stroke-width="0.75"/>
<text x="368.30" y="373.60" font-size="8.1" fill="#1e1e1e" textLength="132.60" lengthAdjust="spacing">Scatter Plot of FACIT-Fatigue Score and</text>
<text x="368.30" y="382.40" font-size="8.1" fill="#1e1e1e" textLength="124.00" lengthAdjust="spacing">Hemoglobin at Baseline and Day 168</text>
<path d="M361.1,388.5 V488.4 H506.8" fill="none" stroke="#1a1a1a" stroke-width="1.1"/>
<line x1="357.90000000000003" y1="485.75" x2="361.1" y2="485.75" stroke="#1a1a1a" stroke-width="0.9"/>
<text x="355.70" y="487.75" font-size="5.3" text-anchor="end" fill="#333" >0</text>
<line x1="357.90000000000003" y1="477.73" x2="361.1" y2="477.73" stroke="#1a1a1a" stroke-width="0.9"/>
<text x="355.70" y="479.73" font-size="5.3" text-anchor="end" fill="#333" >5</text>
<line x1="357.90000000000003" y1="469.71" x2="361.1" y2="469.71" stroke="#1a1a1a" stroke-width="0.9"/>
<text x="355.70" y="471.71" font-size="5.3" text-anchor="end" fill="#333" >10</text>
<line x1="357.90000000000003" y1="461.69" x2="361.1" y2="461.69" stroke="#1a1a1a" stroke-width="0.9"/>
<text x="355.70" y="463.69" font-size="5.3" text-anchor="end" fill="#333" >15</text>
<line x1="357.90000000000003" y1="453.67" x2="361.1" y2="453.67" stroke="#1a1a1a" stroke-width="0.9"/>
<text x="355.70" y="455.67" font-size="5.3" text-anchor="end" fill="#333" >20</text>
<line x1="357.90000000000003" y1="445.65" x2="361.1" y2="445.65" stroke="#1a1a1a" stroke-width="0.9"/>
<text x="355.70" y="447.65" font-size="5.3" text-anchor="end" fill="#333" >25</text>
<line x1="357.90000000000003" y1="437.62" x2="361.1" y2="437.62" stroke="#1a1a1a" stroke-width="0.9"/>
<text x="355.70" y="439.62" font-size="5.3" text-anchor="end" fill="#333" >30</text>
<line x1="357.90000000000003" y1="429.60" x2="361.1" y2="429.60" stroke="#1a1a1a" stroke-width="0.9"/>
<text x="355.70" y="431.60" font-size="5.3" text-anchor="end" fill="#333" >35</text>
<line x1="357.90000000000003" y1="421.58" x2="361.1" y2="421.58" stroke="#1a1a1a" stroke-width="0.9"/>
<text x="355.70" y="423.58" font-size="5.3" text-anchor="end" fill="#333" >40</text>
<line x1="357.90000000000003" y1="413.56" x2="361.1" y2="413.56" stroke="#1a1a1a" stroke-width="0.9"/>
<text x="355.70" y="415.56" font-size="5.3" text-anchor="end" fill="#333" >45</text>
<line x1="357.90000000000003" y1="405.54" x2="361.1" y2="405.54" stroke="#1a1a1a" stroke-width="0.9"/>
<text x="355.70" y="407.54" font-size="5.3" text-anchor="end" fill="#333" >50</text>
<line x1="357.90000000000003" y1="397.52" x2="361.1" y2="397.52" stroke="#1a1a1a" stroke-width="0.9"/>
<text x="355.70" y="399.52" font-size="5.3" text-anchor="end" fill="#333" >55</text>
<line x1="357.90000000000003" y1="389.50" x2="361.1" y2="389.50" stroke="#1a1a1a" stroke-width="0.9"/>
<text x="355.70" y="391.50" font-size="5.3" text-anchor="end" fill="#333" >60</text>
<line x1="362.50" y1="488.4" x2="362.50" y2="491.4" stroke="#1a1a1a" stroke-width="0.9"/>
<text x="362.50" y="498.00" font-size="5.3" text-anchor="middle" fill="#333" >6</text>
<line x1="391.16" y1="488.4" x2="391.16" y2="491.4" stroke="#1a1a1a" stroke-width="0.9"/>
<text x="391.16" y="498.00" font-size="5.3" text-anchor="middle" fill="#333" >8</text>
<line x1="419.82" y1="488.4" x2="419.82" y2="491.4" stroke="#1a1a1a" stroke-width="0.9"/>
<text x="419.82" y="498.00" font-size="5.3" text-anchor="middle" fill="#333" >10</text>
<line x1="448.48" y1="488.4" x2="448.48" y2="491.4" stroke="#1a1a1a" stroke-width="0.9"/>
<text x="448.48" y="498.00" font-size="5.3" text-anchor="middle" fill="#333" >12</text>
<line x1="477.14" y1="488.4" x2="477.14" y2="491.4" stroke="#1a1a1a" stroke-width="0.9"/>
<text x="477.14" y="498.00" font-size="5.3" text-anchor="middle" fill="#333" >14</text>
<line x1="505.80" y1="488.4" x2="505.80" y2="491.4" stroke="#1a1a1a" stroke-width="0.9"/>
<text x="505.80" y="498.00" font-size="5.3" text-anchor="middle" fill="#333" >16</text>
<text x="411.85" y="507.56" font-size="7.2" font-weight="bold" fill="#3a3a3a" textLength="44.1" lengthAdjust="spacingAndGlyphs">Hemoglobin (g/dL)</text>
<text transform="translate(344.20,462.92) rotate(-90)" x="0" y="0" font-size="7.0" font-weight="bold" fill="#262626" textLength="49.8" lengthAdjust="spacingAndGlyphs">FACIT-FATIGUE score</text>
<text x="473.70" y="477.00" font-size="5.5" fill="#333" >R = 0.4153</text>
<text x="473.70" y="484.70" font-size="5.5" fill="#333" ><tspan font-style="italic">P</tspan> = .0002</text>
<circle cx="368.00" cy="412.10" r="1.25" fill="#4c6a94"/>
<circle cx="369.40" cy="432.10" r="1.25" fill="#4c6a94"/>
<circle cx="365.80" cy="439.70" r="1.25" fill="#4c6a94"/>
<circle cx="369.40" cy="448.40" r="1.25" fill="#4c6a94"/>
<circle cx="378.10" cy="446.70" r="1.25" fill="#4c6a94"/>
<circle cx="378.90" cy="445.20" r="1.25" fill="#4c6a94"/>
<circle cx="361.80" cy="429.20" r="1.25" fill="#4c6a94"/>
<circle cx="390.80" cy="404.90" r="1.25" fill="#4c6a94"/>
<circle cx="391.20" cy="410.40" r="1.25" fill="#4c6a94"/>
<circle cx="392.60" cy="409.40" r="1.25" fill="#4c6a94"/>
<circle cx="394.10" cy="408.90" r="1.25" fill="#4c6a94"/>
<circle cx="389.70" cy="415.50" r="1.25" fill="#4c6a94"/>
<circle cx="386.10" cy="424.20" r="1.25" fill="#4c6a94"/>
<circle cx="390.80" cy="424.90" r="1.25" fill="#4c6a94"/>
<circle cx="391.60" cy="426.30" r="1.25" fill="#4c6a94"/>
<circle cx="389.70" cy="429.70" r="1.25" fill="#4c6a94"/>
<circle cx="389.70" cy="433.20" r="1.25" fill="#4c6a94"/>
<circle cx="386.80" cy="446.70" r="1.25" fill="#4c6a94"/>
<circle cx="389.70" cy="448.50" r="1.25" fill="#4c6a94"/>
<circle cx="391.90" cy="447.40" r="1.25" fill="#4c6a94"/>
<circle cx="390.50" cy="458.00" r="1.25" fill="#4c6a94"/>
<circle cx="395.50" cy="455.80" r="1.25" fill="#4c6a94"/>
<circle cx="396.30" cy="460.40" r="1.25" fill="#4c6a94"/>
<circle cx="397.00" cy="418.10" r="1.25" fill="#4c6a94"/>
<circle cx="397.00" cy="423.00" r="1.25" fill="#4c6a94"/>
<circle cx="402.80" cy="421.30" r="1.25" fill="#4c6a94"/>
<circle cx="405.00" cy="423.00" r="1.25" fill="#4c6a94"/>
<circle cx="403.20" cy="429.20" r="1.25" fill="#4c6a94"/>
<circle cx="405.30" cy="430.00" r="1.25" fill="#4c6a94"/>
<circle cx="398.90" cy="444.20" r="1.25" fill="#4c6a94"/>
<circle cx="408.60" cy="423.40" r="1.25" fill="#4c6a94"/>
<circle cx="407.60" cy="453.20" r="1.25" fill="#4c6a94"/>
<circle cx="407.10" cy="460.40" r="1.25" fill="#4c6a94"/>
<circle cx="410.50" cy="410.70" r="1.25" fill="#4c6a94"/>
<circle cx="413.00" cy="420.10" r="1.25" fill="#4c6a94"/>
<circle cx="418.00" cy="435.50" r="1.25" fill="#4c6a94"/>
<circle cx="419.80" cy="436.10" r="1.25" fill="#4c6a94"/>
<circle cx="417.70" cy="442.70" r="1.25" fill="#4c6a94"/>
<circle cx="416.90" cy="465.20" r="1.25" fill="#4c6a94"/>
<path d="M414.30,410.70 H416.50 M415.40,409.60 V411.80" stroke="#c2405e" stroke-width="0.75"/>
<path d="M418.70,407.50 H420.90 M419.80,406.40 V408.60" stroke="#c2405e" stroke-width="0.75"/>
<path d="M423.00,405.70 H425.20 M424.10,404.60 V406.80" stroke="#c2405e" stroke-width="0.75"/>
<path d="M428.80,409.40 H431.00 M429.90,408.30 V410.50" stroke="#c2405e" stroke-width="0.75"/>
<path d="M430.00,413.60 H432.20 M431.10,412.50 V414.70" stroke="#c2405e" stroke-width="0.75"/>
<path d="M433.20,412.10 H435.40 M434.30,411.00 V413.20" stroke="#c2405e" stroke-width="0.75"/>
<path d="M429.60,409.70 H431.80 M430.70,408.60 V410.80" stroke="#c2405e" stroke-width="0.75"/>
<path d="M430.40,413.70 H432.60 M431.50,412.60 V414.80" stroke="#c2405e" stroke-width="0.75"/>
<path d="M436.20,413.70 H438.40 M437.30,412.60 V414.80" stroke="#c2405e" stroke-width="0.75"/>
<path d="M439.10,418.70 H441.30 M440.20,417.60 V419.80" stroke="#c2405e" stroke-width="0.75"/>
<path d="M443.40,411.80 H445.60 M444.50,410.70 V412.90" stroke="#c2405e" stroke-width="0.75"/>
<path d="M446.30,416.60 H448.50 M447.40,415.50 V417.70" stroke="#c2405e" stroke-width="0.75"/>
<path d="M450.40,408.50 H452.60 M451.50,407.40 V409.60" stroke="#c2405e" stroke-width="0.75"/>
<path d="M451.40,407.50 H453.60 M452.50,406.40 V408.60" stroke="#c2405e" stroke-width="0.75"/>
<path d="M450.70,413.70 H452.90 M451.80,412.60 V414.80" stroke="#c2405e" stroke-width="0.75"/>
<path d="M455.00,418.70 H457.20 M456.10,417.60 V419.80" stroke="#c2405e" stroke-width="0.75"/>
<path d="M457.60,402.70 H459.80 M458.70,401.60 V403.80" stroke="#c2405e" stroke-width="0.75"/>
<path d="M458.60,403.60 H460.80 M459.70,402.50 V404.70" stroke="#c2405e" stroke-width="0.75"/>
<path d="M460.80,403.90 H463.00 M461.90,402.80 V405.00" stroke="#c2405e" stroke-width="0.75"/>
<path d="M463.40,404.60 H465.60 M464.50,403.50 V405.70" stroke="#c2405e" stroke-width="0.75"/>
<path d="M463.70,405.70 H465.90 M464.80,404.60 V406.80" stroke="#c2405e" stroke-width="0.75"/>
<path d="M469.50,405.70 H471.70 M470.60,404.60 V406.80" stroke="#c2405e" stroke-width="0.75"/>
<path d="M475.00,405.70 H477.20 M476.10,404.60 V406.80" stroke="#c2405e" stroke-width="0.75"/>
<path d="M475.30,407.50 H477.50 M476.40,406.40 V408.60" stroke="#c2405e" stroke-width="0.75"/>
<path d="M457.90,411.80 H460.10 M459.00,410.70 V412.90" stroke="#c2405e" stroke-width="0.75"/>
<path d="M449.20,423.40 H451.40 M450.30,422.30 V424.50" stroke="#c2405e" stroke-width="0.75"/>
<path d="M446.30,426.80 H448.50 M447.40,425.70 V427.90" stroke="#c2405e" stroke-width="0.75"/>
<path d="M447.80,428.20 H450.00 M448.90,427.10 V429.30" stroke="#c2405e" stroke-width="0.75"/>
<path d="M451.80,430.00 H454.00 M452.90,428.90 V431.10" stroke="#c2405e" stroke-width="0.75"/>
<path d="M459.10,430.00 H461.30 M460.20,428.90 V431.10" stroke="#c2405e" stroke-width="0.75"/>
<path d="M478.20,413.70 H480.40 M479.30,412.60 V414.80" stroke="#c2405e" stroke-width="0.75"/>
<path d="M476.50,430.00 H478.70 M477.60,428.90 V431.10" stroke="#c2405e" stroke-width="0.75"/>
<path d="M484.00,426.80 H486.20 M485.10,425.70 V427.90" stroke="#c2405e" stroke-width="0.75"/>
<path d="M486.90,433.60 H489.10 M488.00,432.50 V434.70" stroke="#c2405e" stroke-width="0.75"/>
<path d="M488.10,435.00 H490.30 M489.20,433.90 V436.10" stroke="#c2405e" stroke-width="0.75"/>
<path d="M476.80,439.70 H479.00 M477.90,438.60 V440.80" stroke="#c2405e" stroke-width="0.75"/>
<path d="M495.30,413.70 H497.50 M496.40,412.60 V414.80" stroke="#c2405e" stroke-width="0.75"/>
<path d="M496.80,410.80 H499.00 M497.90,409.70 V411.90" stroke="#c2405e" stroke-width="0.75"/>
<text x="368.25" y="526.10" font-size="8.1" fill="#1e1e1e" textLength="132.25" lengthAdjust="spacing">Scatter Plot of FACIT-Fatigue Score and</text>
<text x="356.25" y="535.40" font-size="8.1" fill="#1e1e1e" textLength="156.25" lengthAdjust="spacing">Log-Transformed LDH at Baseline and Day 168</text>
<path d="M361.1,541.5 V641.2 H506.8" fill="none" stroke="#1a1a1a" stroke-width="1.1"/>
<line x1="357.90000000000003" y1="638.60" x2="361.1" y2="638.60" stroke="#1a1a1a" stroke-width="0.9"/>
<text x="355.70" y="640.60" font-size="5.3" text-anchor="end" fill="#333" >0</text>
<line x1="357.90000000000003" y1="630.59" x2="361.1" y2="630.59" stroke="#1a1a1a" stroke-width="0.9"/>
<text x="355.70" y="632.59" font-size="5.3" text-anchor="end" fill="#333" >5</text>
<line x1="357.90000000000003" y1="622.58" x2="361.1" y2="622.58" stroke="#1a1a1a" stroke-width="0.9"/>
<text x="355.70" y="624.58" font-size="5.3" text-anchor="end" fill="#333" >10</text>
<line x1="357.90000000000003" y1="614.58" x2="361.1" y2="614.58" stroke="#1a1a1a" stroke-width="0.9"/>
<text x="355.70" y="616.58" font-size="5.3" text-anchor="end" fill="#333" >15</text>
<line x1="357.90000000000003" y1="606.57" x2="361.1" y2="606.57" stroke="#1a1a1a" stroke-width="0.9"/>
<text x="355.70" y="608.57" font-size="5.3" text-anchor="end" fill="#333" >20</text>
<line x1="357.90000000000003" y1="598.56" x2="361.1" y2="598.56" stroke="#1a1a1a" stroke-width="0.9"/>
<text x="355.70" y="600.56" font-size="5.3" text-anchor="end" fill="#333" >25</text>
<line x1="357.90000000000003" y1="590.55" x2="361.1" y2="590.55" stroke="#1a1a1a" stroke-width="0.9"/>
<text x="355.70" y="592.55" font-size="5.3" text-anchor="end" fill="#333" >30</text>
<line x1="357.90000000000003" y1="582.54" x2="361.1" y2="582.54" stroke="#1a1a1a" stroke-width="0.9"/>
<text x="355.70" y="584.54" font-size="5.3" text-anchor="end" fill="#333" >35</text>
<line x1="357.90000000000003" y1="574.53" x2="361.1" y2="574.53" stroke="#1a1a1a" stroke-width="0.9"/>
<text x="355.70" y="576.53" font-size="5.3" text-anchor="end" fill="#333" >40</text>
<line x1="357.90000000000003" y1="566.52" x2="361.1" y2="566.52" stroke="#1a1a1a" stroke-width="0.9"/>
<text x="355.70" y="568.52" font-size="5.3" text-anchor="end" fill="#333" >45</text>
<line x1="357.90000000000003" y1="558.52" x2="361.1" y2="558.52" stroke="#1a1a1a" stroke-width="0.9"/>
<text x="355.70" y="560.52" font-size="5.3" text-anchor="end" fill="#333" >50</text>
<line x1="357.90000000000003" y1="550.51" x2="361.1" y2="550.51" stroke="#1a1a1a" stroke-width="0.9"/>
<text x="355.70" y="552.51" font-size="5.3" text-anchor="end" fill="#333" >55</text>
<line x1="357.90000000000003" y1="542.50" x2="361.1" y2="542.50" stroke="#1a1a1a" stroke-width="0.9"/>
<text x="355.70" y="544.50" font-size="5.3" text-anchor="end" fill="#333" >60</text>
<line x1="362.50" y1="641.2" x2="362.50" y2="644.2" stroke="#1a1a1a" stroke-width="0.9"/>
<text x="362.50" y="650.50" font-size="5.3" text-anchor="middle" fill="#333" >0</text>
<line x1="376.88" y1="641.2" x2="376.88" y2="644.2" stroke="#1a1a1a" stroke-width="0.9"/>
<text x="376.88" y="650.50" font-size="5.3" text-anchor="middle" fill="#333" >1</text>
<line x1="391.25" y1="641.2" x2="391.25" y2="644.2" stroke="#1a1a1a" stroke-width="0.9"/>
<text x="391.25" y="650.50" font-size="5.3" text-anchor="middle" fill="#333" >2</text>
<line x1="405.62" y1="641.2" x2="405.62" y2="644.2" stroke="#1a1a1a" stroke-width="0.9"/>
<text x="405.62" y="650.50" font-size="5.3" text-anchor="middle" fill="#333" >3</text>
<line x1="420.00" y1="641.2" x2="420.00" y2="644.2" stroke="#1a1a1a" stroke-width="0.9"/>
<text x="420.00" y="650.50" font-size="5.3" text-anchor="middle" fill="#333" >4</text>
<line x1="434.38" y1="641.2" x2="434.38" y2="644.2" stroke="#1a1a1a" stroke-width="0.9"/>
<text x="434.38" y="650.50" font-size="5.3" text-anchor="middle" fill="#333" >5</text>
<line x1="448.75" y1="641.2" x2="448.75" y2="644.2" stroke="#1a1a1a" stroke-width="0.9"/>
<text x="448.75" y="650.50" font-size="5.3" text-anchor="middle" fill="#333" >6</text>
<line x1="463.12" y1="641.2" x2="463.12" y2="644.2" stroke="#1a1a1a" stroke-width="0.9"/>
<text x="463.12" y="650.50" font-size="5.3" text-anchor="middle" fill="#333" >7</text>
<line x1="477.50" y1="641.2" x2="477.50" y2="644.2" stroke="#1a1a1a" stroke-width="0.9"/>
<text x="477.50" y="650.50" font-size="5.3" text-anchor="middle" fill="#333" >8</text>
<line x1="491.88" y1="641.2" x2="491.88" y2="644.2" stroke="#1a1a1a" stroke-width="0.9"/>
<text x="491.88" y="650.50" font-size="5.3" text-anchor="middle" fill="#333" >9</text>
<line x1="506.25" y1="641.2" x2="506.25" y2="644.2" stroke="#1a1a1a" stroke-width="0.9"/>
<text x="506.25" y="650.50" font-size="5.3" text-anchor="middle" fill="#333" >10</text>
<text x="409.60" y="660.16" font-size="7.2" font-weight="bold" fill="#3a3a3a" textLength="50.6" lengthAdjust="spacingAndGlyphs">Log-transformed LDH</text>
<text transform="translate(344.20,615.85) rotate(-90)" x="0" y="0" font-size="7.0" font-weight="bold" fill="#262626" textLength="49.8" lengthAdjust="spacingAndGlyphs">FACIT-FATIGUE score</text>
<text x="473.70" y="629.80" font-size="5.5" fill="#333" >R = &#8722;0.5313</text>
<text x="473.70" y="637.30" font-size="5.5" fill="#333" ><tspan font-style="italic">P</tspan> &lt; .0001</text>
<circle cx="464.00" cy="557.50" r="1.25" fill="#4c6a94"/>
<circle cx="463.30" cy="563.20" r="1.25" fill="#4c6a94"/>
<circle cx="469.40" cy="561.70" r="1.25" fill="#4c6a94"/>
<circle cx="470.60" cy="564.80" r="1.25" fill="#4c6a94"/>
<circle cx="473.70" cy="562.50" r="1.25" fill="#4c6a94"/>
<circle cx="464.80" cy="568.10" r="1.25" fill="#4c6a94"/>
<circle cx="467.10" cy="570.40" r="1.25" fill="#4c6a94"/>
<circle cx="461.90" cy="572.70" r="1.25" fill="#4c6a94"/>
<circle cx="467.70" cy="573.60" r="1.25" fill="#4c6a94"/>
<circle cx="464.80" cy="575.20" r="1.25" fill="#4c6a94"/>
<circle cx="466.50" cy="576.20" r="1.25" fill="#4c6a94"/>
<circle cx="467.90" cy="577.50" r="1.25" fill="#4c6a94"/>
<circle cx="479.00" cy="575.60" r="1.25" fill="#4c6a94"/>
<circle cx="471.70" cy="579.00" r="1.25" fill="#4c6a94"/>
<circle cx="472.30" cy="581.90" r="1.25" fill="#4c6a94"/>
<circle cx="465.20" cy="581.90" r="1.25" fill="#4c6a94"/>
<circle cx="461.90" cy="582.80" r="1.25" fill="#4c6a94"/>
<circle cx="479.20" cy="582.80" r="1.25" fill="#4c6a94"/>
<circle cx="474.00" cy="584.80" r="1.25" fill="#4c6a94"/>
<circle cx="475.80" cy="586.00" r="1.25" fill="#4c6a94"/>
<circle cx="467.90" cy="588.30" r="1.25" fill="#4c6a94"/>
<circle cx="479.20" cy="589.10" r="1.25" fill="#4c6a94"/>
<circle cx="464.00" cy="592.30" r="1.25" fill="#4c6a94"/>
<circle cx="471.70" cy="595.50" r="1.25" fill="#4c6a94"/>
<circle cx="464.20" cy="597.20" r="1.25" fill="#4c6a94"/>
<circle cx="475.80" cy="597.50" r="1.25" fill="#4c6a94"/>
<circle cx="472.90" cy="599.20" r="1.25" fill="#4c6a94"/>
<circle cx="457.10" cy="599.50" r="1.25" fill="#4c6a94"/>
<circle cx="463.70" cy="601.30" r="1.25" fill="#4c6a94"/>
<circle cx="469.10" cy="601.30" r="1.25" fill="#4c6a94"/>
<circle cx="472.10" cy="606.20" r="1.25" fill="#4c6a94"/>
<circle cx="452.70" cy="608.50" r="1.25" fill="#4c6a94"/>
<circle cx="470.00" cy="611.00" r="1.25" fill="#4c6a94"/>
<circle cx="461.70" cy="613.30" r="1.25" fill="#4c6a94"/>
<circle cx="477.80" cy="613.30" r="1.25" fill="#4c6a94"/>
<circle cx="470.00" cy="617.90" r="1.25" fill="#4c6a94"/>
<path d="M440.60,557.10 H442.80 M441.70,556.00 V558.20" stroke="#c2405e" stroke-width="0.75"/>
<path d="M441.40,558.60 H443.60 M442.50,557.50 V559.70" stroke="#c2405e" stroke-width="0.75"/>
<path d="M446.40,556.80 H448.60 M447.50,555.70 V557.90" stroke="#c2405e" stroke-width="0.75"/>
<path d="M445.80,560.00 H448.00 M446.90,558.90 V561.10" stroke="#c2405e" stroke-width="0.75"/>
<path d="M436.60,560.60 H438.80 M437.70,559.50 V561.70" stroke="#c2405e" stroke-width="0.75"/>
<path d="M435.40,561.70 H437.60 M436.50,560.60 V562.80" stroke="#c2405e" stroke-width="0.75"/>
<path d="M440.60,561.70 H442.80 M441.70,560.60 V562.80" stroke="#c2405e" stroke-width="0.75"/>
<path d="M430.80,564.80 H433.00 M431.90,563.70 V565.90" stroke="#c2405e" stroke-width="0.75"/>
<path d="M436.60,566.30 H438.80 M437.70,565.20 V567.40" stroke="#c2405e" stroke-width="0.75"/>
<path d="M438.30,566.30 H440.50 M439.40,565.20 V567.40" stroke="#c2405e" stroke-width="0.75"/>
<path d="M442.40,564.00 H444.60 M443.50,562.90 V565.10" stroke="#c2405e" stroke-width="0.75"/>
<path d="M442.40,566.30 H444.60 M443.50,565.20 V567.40" stroke="#c2405e" stroke-width="0.75"/>
<path d="M444.10,566.30 H446.30 M445.20,565.20 V567.40" stroke="#c2405e" stroke-width="0.75"/>
<path d="M441.20,571.50 H443.40 M442.30,570.40 V572.60" stroke="#c2405e" stroke-width="0.75"/>
<path d="M444.10,571.00 H446.30 M445.20,569.90 V572.10" stroke="#c2405e" stroke-width="0.75"/>
<path d="M442.40,576.20 H444.60 M443.50,575.10 V577.30" stroke="#c2405e" stroke-width="0.75"/>
<path d="M437.50,579.00 H439.70 M438.60,577.90 V580.10" stroke="#c2405e" stroke-width="0.75"/>
<path d="M442.40,579.40 H444.60 M443.50,578.30 V580.50" stroke="#c2405e" stroke-width="0.75"/>
<path d="M434.10,580.80 H436.30 M435.20,579.70 V581.90" stroke="#c2405e" stroke-width="0.75"/>
<path d="M435.20,582.50 H437.40 M436.30,581.40 V583.60" stroke="#c2405e" stroke-width="0.75"/>
<path d="M440.60,582.50 H442.80 M441.70,581.40 V583.60" stroke="#c2405e" stroke-width="0.75"/>
<path d="M443.50,582.50 H445.70 M444.60,581.40 V583.60" stroke="#c2405e" stroke-width="0.75"/>
<path d="M447.00,585.60 H449.20 M448.10,584.50 V586.70" stroke="#c2405e" stroke-width="0.75"/>
<path d="M439.50,587.70 H441.70 M440.60,586.60 V588.80" stroke="#c2405e" stroke-width="0.75"/>
<path d="M455.10,592.30 H457.30 M456.20,591.20 V593.40" stroke="#c2405e" stroke-width="0.75"/>
<text x="377.80" y="309.70" font-size="5.1" fill="#3a3a3a" >Treatment arm:</text>
<circle cx="417.1" cy="307.9" r="1.45" fill="none" stroke="#7fa8d0" stroke-width="0.7"/>
<text x="421.20" y="309.70" font-size="5.3" fill="#333" >CSi</text>
<path d="M435.30,307.90 H437.90 M436.60,306.60 V309.20" stroke="#7aa87a" stroke-width="0.7"/>
<text x="440.60" y="309.70" font-size="5.45" fill="#333" >Iptacopan 200mg bid</text>
<text x="398.80" y="671.00" font-size="5.1" fill="#3a3a3a" >Visit:</text>
<circle cx="414.5" cy="669.2" r="1.45" fill="none" stroke="#5f7ea6" stroke-width="0.7"/>
<text x="418.50" y="671.00" font-size="5.3" fill="#333" >Baseline</text>
<path d="M444.70,669.20 H447.30 M446.00,667.90 V670.50" stroke="#c05070" stroke-width="0.7"/>
<text x="450.50" y="671.00" font-size="5.3" fill="#333" >Week 24</text>
<text x="7.00" y="17.00" font-size="12.0" fill="#111" font-weight="bold" stroke="#111" stroke-width="0.45">A</text>
<text x="326.00" y="17.00" font-size="12.0" fill="#111" font-weight="bold" stroke="#111" stroke-width="0.45">B</text>
<text x="7.00" y="377.40" font-size="12.0" fill="#111" font-weight="bold" stroke="#111" stroke-width="0.45">C</text>
<text x="326.10" y="377.40" font-size="12.0" fill="#111" font-weight="bold" stroke="#111" stroke-width="0.45">D</text>
<rect x="0" y="0" width="520" height="1.1" fill="#505050"/>
<rect x="0" y="0" width="1.1" height="724" fill="#505050"/>
<rect x="518.8" y="0" width="1.2" height="724" fill="#404040"/>
<rect x="0" y="722.7" width="520" height="1.3" fill="#404040"/>
</svg>
</body></html>
